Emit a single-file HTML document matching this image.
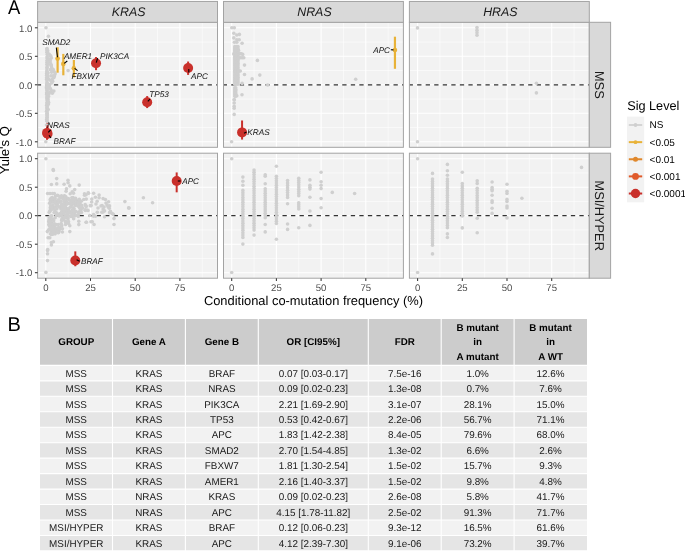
<!DOCTYPE html>
<html><head><meta charset="utf-8"><title>Figure</title>
<style>
html,body{margin:0;padding:0;background:#fff;width:685px;height:551px;overflow:hidden;}
svg{display:block;will-change:transform;}
text{font-family:"Liberation Sans",sans-serif;text-rendering:geometricPrecision;}
</style></head>
<body>
<svg width="685" height="551" viewBox="0 0 685 551">
<rect x="0" y="0" width="685" height="551" fill="#fff"/>
<text transform="translate(7.9,14.3) scale(0.92,1.0)" font-size="20" fill="#000">A</text>
<rect x="37.6" y="22.3" width="179.9" height="125" fill="#F2F2F2"/>
<line x1="37.6" x2="217.5" y1="127.55" y2="127.55" stroke="#fff" stroke-width="0.55"/>
<line x1="37.6" x2="217.5" y1="99.05" y2="99.05" stroke="#fff" stroke-width="0.55"/>
<line x1="37.6" x2="217.5" y1="70.55" y2="70.55" stroke="#fff" stroke-width="0.55"/>
<line x1="37.6" x2="217.5" y1="42.05" y2="42.05" stroke="#fff" stroke-width="0.55"/>
<line x1="68.15" x2="68.15" y1="22.3" y2="147.3" stroke="#fff" stroke-width="0.55"/>
<line x1="112.85" x2="112.85" y1="22.3" y2="147.3" stroke="#fff" stroke-width="0.55"/>
<line x1="157.55" x2="157.55" y1="22.3" y2="147.3" stroke="#fff" stroke-width="0.55"/>
<line x1="202.25" x2="202.25" y1="22.3" y2="147.3" stroke="#fff" stroke-width="0.55"/>
<line x1="37.6" x2="217.5" y1="141.8" y2="141.8" stroke="#fff" stroke-width="1.1"/>
<line x1="37.6" x2="217.5" y1="113.3" y2="113.3" stroke="#fff" stroke-width="1.1"/>
<line x1="37.6" x2="217.5" y1="84.8" y2="84.8" stroke="#fff" stroke-width="1.1"/>
<line x1="37.6" x2="217.5" y1="56.3" y2="56.3" stroke="#fff" stroke-width="1.1"/>
<line x1="37.6" x2="217.5" y1="27.8" y2="27.8" stroke="#fff" stroke-width="1.1"/>
<line x1="45.8" x2="45.8" y1="22.3" y2="147.3" stroke="#fff" stroke-width="1.1"/>
<line x1="90.5" x2="90.5" y1="22.3" y2="147.3" stroke="#fff" stroke-width="1.1"/>
<line x1="135.2" x2="135.2" y1="22.3" y2="147.3" stroke="#fff" stroke-width="1.1"/>
<line x1="179.9" x2="179.9" y1="22.3" y2="147.3" stroke="#fff" stroke-width="1.1"/>
<line x1="37.6" x2="217.5" y1="84.8" y2="84.8" stroke="#333" stroke-width="1.25" stroke-dasharray="4.3 4.24" stroke-dashoffset="0.8"/>
<line x1="47.05" x2="47.05" y1="139.56" y2="120.48" stroke="#C9302B" stroke-width="2"/>
<circle cx="46.98" cy="48.89" r="1.8" fill="#CFCFCF"/>
<circle cx="46.92" cy="48.46" r="1.8" fill="#CFCFCF"/>
<circle cx="46.95" cy="50.43" r="1.8" fill="#CFCFCF"/>
<circle cx="47.7" cy="50.71" r="1.8" fill="#CFCFCF"/>
<circle cx="46.97" cy="52.34" r="1.8" fill="#CFCFCF"/>
<circle cx="47.43" cy="52.27" r="1.8" fill="#CFCFCF"/>
<circle cx="47.13" cy="54.27" r="1.8" fill="#CFCFCF"/>
<circle cx="49.26" cy="54.28" r="1.8" fill="#CFCFCF"/>
<circle cx="47.18" cy="56.45" r="1.8" fill="#CFCFCF"/>
<circle cx="50.68" cy="56.32" r="1.8" fill="#CFCFCF"/>
<circle cx="50.59" cy="55.86" r="1.8" fill="#CFCFCF"/>
<circle cx="46.92" cy="58.09" r="1.8" fill="#CFCFCF"/>
<circle cx="51.33" cy="57.99" r="1.8" fill="#CFCFCF"/>
<circle cx="48.2" cy="58.68" r="1.8" fill="#CFCFCF"/>
<circle cx="47.03" cy="60.28" r="1.8" fill="#CFCFCF"/>
<circle cx="50.33" cy="60.1" r="1.8" fill="#CFCFCF"/>
<circle cx="48.73" cy="59.68" r="1.8" fill="#CFCFCF"/>
<circle cx="46.88" cy="62.21" r="1.8" fill="#CFCFCF"/>
<circle cx="50.11" cy="62.04" r="1.8" fill="#CFCFCF"/>
<circle cx="47.84" cy="62.2" r="1.8" fill="#CFCFCF"/>
<circle cx="46.92" cy="64.18" r="1.8" fill="#CFCFCF"/>
<circle cx="50.82" cy="64.16" r="1.8" fill="#CFCFCF"/>
<circle cx="47.78" cy="64.09" r="1.8" fill="#CFCFCF"/>
<circle cx="47.15" cy="66.04" r="1.8" fill="#CFCFCF"/>
<circle cx="51.26" cy="65.73" r="1.8" fill="#CFCFCF"/>
<circle cx="51.17" cy="65.44" r="1.8" fill="#CFCFCF"/>
<circle cx="47.05" cy="67.59" r="1.8" fill="#CFCFCF"/>
<circle cx="51.65" cy="67.79" r="1.8" fill="#CFCFCF"/>
<circle cx="46.94" cy="68" r="1.8" fill="#CFCFCF"/>
<circle cx="46.85" cy="69.93" r="1.8" fill="#CFCFCF"/>
<circle cx="53.23" cy="69.55" r="1.8" fill="#CFCFCF"/>
<circle cx="51.21" cy="69.81" r="1.8" fill="#CFCFCF"/>
<circle cx="50.45" cy="69.65" r="1.8" fill="#CFCFCF"/>
<circle cx="46.98" cy="71.58" r="1.8" fill="#CFCFCF"/>
<circle cx="54.31" cy="71.73" r="1.8" fill="#CFCFCF"/>
<circle cx="47.07" cy="71.84" r="1.8" fill="#CFCFCF"/>
<circle cx="51.59" cy="72.19" r="1.8" fill="#CFCFCF"/>
<circle cx="46.71" cy="73.43" r="1.8" fill="#CFCFCF"/>
<circle cx="55.15" cy="73.63" r="1.8" fill="#CFCFCF"/>
<circle cx="46.79" cy="73.45" r="1.8" fill="#CFCFCF"/>
<circle cx="48.04" cy="73.04" r="1.8" fill="#CFCFCF"/>
<circle cx="47.1" cy="73.82" r="1.8" fill="#CFCFCF"/>
<circle cx="46.7" cy="75.33" r="1.8" fill="#CFCFCF"/>
<circle cx="54.53" cy="75.7" r="1.8" fill="#CFCFCF"/>
<circle cx="47.24" cy="75.34" r="1.8" fill="#CFCFCF"/>
<circle cx="50.96" cy="75.86" r="1.8" fill="#CFCFCF"/>
<circle cx="53.1" cy="75.84" r="1.8" fill="#CFCFCF"/>
<circle cx="46.77" cy="77.22" r="1.8" fill="#CFCFCF"/>
<circle cx="53.92" cy="77.61" r="1.8" fill="#CFCFCF"/>
<circle cx="53.61" cy="76.88" r="1.8" fill="#CFCFCF"/>
<circle cx="47.89" cy="76.98" r="1.8" fill="#CFCFCF"/>
<circle cx="46.79" cy="79.25" r="1.8" fill="#CFCFCF"/>
<circle cx="52.32" cy="79.01" r="1.8" fill="#CFCFCF"/>
<circle cx="46.62" cy="79.1" r="1.8" fill="#CFCFCF"/>
<circle cx="48.71" cy="79.28" r="1.8" fill="#CFCFCF"/>
<circle cx="46.88" cy="81.11" r="1.8" fill="#CFCFCF"/>
<circle cx="52.67" cy="81.19" r="1.8" fill="#CFCFCF"/>
<circle cx="50.7" cy="80.56" r="1.8" fill="#CFCFCF"/>
<circle cx="52.06" cy="81.44" r="1.8" fill="#CFCFCF"/>
<circle cx="46.92" cy="82.94" r="1.8" fill="#CFCFCF"/>
<circle cx="51.74" cy="82.92" r="1.8" fill="#CFCFCF"/>
<circle cx="47.13" cy="83.16" r="1.8" fill="#CFCFCF"/>
<circle cx="46.63" cy="84.73" r="1.8" fill="#CFCFCF"/>
<circle cx="49.65" cy="84.63" r="1.8" fill="#CFCFCF"/>
<circle cx="47.64" cy="84.36" r="1.8" fill="#CFCFCF"/>
<circle cx="46.66" cy="86.56" r="1.8" fill="#CFCFCF"/>
<circle cx="49.2" cy="86.69" r="1.8" fill="#CFCFCF"/>
<circle cx="46.67" cy="87.25" r="1.8" fill="#CFCFCF"/>
<circle cx="46.66" cy="88.55" r="1.8" fill="#CFCFCF"/>
<circle cx="50.34" cy="88.58" r="1.8" fill="#CFCFCF"/>
<circle cx="47.96" cy="88.25" r="1.8" fill="#CFCFCF"/>
<circle cx="47" cy="90.58" r="1.8" fill="#CFCFCF"/>
<circle cx="51.39" cy="90.59" r="1.8" fill="#CFCFCF"/>
<circle cx="47.01" cy="90.12" r="1.8" fill="#CFCFCF"/>
<circle cx="46.71" cy="92.7" r="1.8" fill="#CFCFCF"/>
<circle cx="49.62" cy="92.23" r="1.8" fill="#CFCFCF"/>
<circle cx="46.67" cy="93.04" r="1.8" fill="#CFCFCF"/>
<circle cx="46.66" cy="94.43" r="1.8" fill="#CFCFCF"/>
<circle cx="48.88" cy="94.02" r="1.8" fill="#CFCFCF"/>
<circle cx="46.99" cy="96.52" r="1.8" fill="#CFCFCF"/>
<circle cx="48.55" cy="96.46" r="1.8" fill="#CFCFCF"/>
<circle cx="46.75" cy="98" r="1.8" fill="#CFCFCF"/>
<circle cx="47.76" cy="98.42" r="1.8" fill="#CFCFCF"/>
<circle cx="46.91" cy="100" r="1.8" fill="#CFCFCF"/>
<circle cx="48.15" cy="99.88" r="1.8" fill="#CFCFCF"/>
<circle cx="46.99" cy="102.21" r="1.8" fill="#CFCFCF"/>
<circle cx="48.56" cy="102.24" r="1.8" fill="#CFCFCF"/>
<circle cx="46.9" cy="103.74" r="1.8" fill="#CFCFCF"/>
<circle cx="48.48" cy="103.91" r="1.8" fill="#CFCFCF"/>
<circle cx="46.61" cy="105.52" r="1.8" fill="#CFCFCF"/>
<circle cx="47.49" cy="105.62" r="1.8" fill="#CFCFCF"/>
<circle cx="46.88" cy="107.97" r="1.8" fill="#CFCFCF"/>
<circle cx="47.16" cy="107.66" r="1.8" fill="#CFCFCF"/>
<circle cx="47" cy="109.87" r="1.8" fill="#CFCFCF"/>
<circle cx="48.22" cy="109.49" r="1.8" fill="#CFCFCF"/>
<circle cx="46.69" cy="111.32" r="1.8" fill="#CFCFCF"/>
<circle cx="46.75" cy="111.26" r="1.8" fill="#CFCFCF"/>
<circle cx="46.96" cy="113.6" r="1.8" fill="#CFCFCF"/>
<circle cx="47.28" cy="113.38" r="1.8" fill="#CFCFCF"/>
<circle cx="46.93" cy="115.05" r="1.8" fill="#CFCFCF"/>
<circle cx="47.12" cy="115.43" r="1.8" fill="#CFCFCF"/>
<circle cx="47" cy="117.35" r="1.8" fill="#CFCFCF"/>
<circle cx="47.2" cy="117.18" r="1.8" fill="#CFCFCF"/>
<circle cx="47.08" cy="119" r="1.8" fill="#CFCFCF"/>
<circle cx="46.76" cy="119.34" r="1.8" fill="#CFCFCF"/>
<circle cx="47.13" cy="120.94" r="1.8" fill="#CFCFCF"/>
<circle cx="46.97" cy="121.36" r="1.8" fill="#CFCFCF"/>
<circle cx="46" cy="27.8" r="1.8" fill="#CFCFCF"/>
<circle cx="48.4" cy="36.2" r="1.8" fill="#CFCFCF"/>
<circle cx="68.1" cy="70.6" r="1.8" fill="#CFCFCF"/>
<circle cx="45.8" cy="141.7" r="1.8" fill="#CFCFCF"/>
<circle cx="53.9" cy="91.1" r="1.8" fill="#CFCFCF"/>
<circle cx="52.3" cy="93.2" r="1.8" fill="#CFCFCF"/>
<circle cx="46.5" cy="125" r="1.8" fill="#CFCFCF"/>
<rect x="223.5" y="22.3" width="179.9" height="125" fill="#F2F2F2"/>
<line x1="223.5" x2="403.4" y1="127.55" y2="127.55" stroke="#fff" stroke-width="0.55"/>
<line x1="223.5" x2="403.4" y1="99.05" y2="99.05" stroke="#fff" stroke-width="0.55"/>
<line x1="223.5" x2="403.4" y1="70.55" y2="70.55" stroke="#fff" stroke-width="0.55"/>
<line x1="223.5" x2="403.4" y1="42.05" y2="42.05" stroke="#fff" stroke-width="0.55"/>
<line x1="254.05" x2="254.05" y1="22.3" y2="147.3" stroke="#fff" stroke-width="0.55"/>
<line x1="298.75" x2="298.75" y1="22.3" y2="147.3" stroke="#fff" stroke-width="0.55"/>
<line x1="343.45" x2="343.45" y1="22.3" y2="147.3" stroke="#fff" stroke-width="0.55"/>
<line x1="388.15" x2="388.15" y1="22.3" y2="147.3" stroke="#fff" stroke-width="0.55"/>
<line x1="223.5" x2="403.4" y1="141.8" y2="141.8" stroke="#fff" stroke-width="1.1"/>
<line x1="223.5" x2="403.4" y1="113.3" y2="113.3" stroke="#fff" stroke-width="1.1"/>
<line x1="223.5" x2="403.4" y1="84.8" y2="84.8" stroke="#fff" stroke-width="1.1"/>
<line x1="223.5" x2="403.4" y1="56.3" y2="56.3" stroke="#fff" stroke-width="1.1"/>
<line x1="223.5" x2="403.4" y1="27.8" y2="27.8" stroke="#fff" stroke-width="1.1"/>
<line x1="231.7" x2="231.7" y1="22.3" y2="147.3" stroke="#fff" stroke-width="1.1"/>
<line x1="276.4" x2="276.4" y1="22.3" y2="147.3" stroke="#fff" stroke-width="1.1"/>
<line x1="321.1" x2="321.1" y1="22.3" y2="147.3" stroke="#fff" stroke-width="1.1"/>
<line x1="365.8" x2="365.8" y1="22.3" y2="147.3" stroke="#fff" stroke-width="1.1"/>
<line x1="223.5" x2="403.4" y1="84.8" y2="84.8" stroke="#333" stroke-width="1.25" stroke-dasharray="4.3 4.24" stroke-dashoffset="0.8"/>
<circle cx="231.8" cy="27.7" r="1.8" fill="#CFCFCF"/>
<circle cx="234.3" cy="27.7" r="1.8" fill="#CFCFCF"/>
<circle cx="233.8" cy="33.2" r="1.8" fill="#CFCFCF"/>
<circle cx="236.8" cy="35" r="1.8" fill="#CFCFCF"/>
<circle cx="239.4" cy="34.4" r="1.8" fill="#CFCFCF"/>
<circle cx="233.8" cy="37.9" r="1.8" fill="#CFCFCF"/>
<circle cx="236.8" cy="39.7" r="1.8" fill="#CFCFCF"/>
<circle cx="239.2" cy="39.7" r="1.8" fill="#CFCFCF"/>
<circle cx="234.4" cy="42.3" r="1.8" fill="#CFCFCF"/>
<circle cx="236.8" cy="42.3" r="1.8" fill="#CFCFCF"/>
<circle cx="242.1" cy="43.2" r="1.8" fill="#CFCFCF"/>
<circle cx="257.4" cy="60.4" r="1.8" fill="#CFCFCF"/>
<circle cx="244.5" cy="65.1" r="1.8" fill="#CFCFCF"/>
<circle cx="244.5" cy="74.5" r="1.8" fill="#CFCFCF"/>
<circle cx="259.8" cy="75.1" r="1.8" fill="#CFCFCF"/>
<circle cx="252.1" cy="78.9" r="1.8" fill="#CFCFCF"/>
<circle cx="242.1" cy="83.4" r="1.8" fill="#CFCFCF"/>
<circle cx="242" cy="94.7" r="1.8" fill="#CFCFCF"/>
<circle cx="236.8" cy="95.8" r="1.8" fill="#CFCFCF"/>
<circle cx="234.2" cy="103" r="1.8" fill="#CFCFCF"/>
<circle cx="234.2" cy="106.3" r="1.8" fill="#CFCFCF"/>
<circle cx="234.2" cy="108.3" r="1.8" fill="#CFCFCF"/>
<circle cx="234.2" cy="114.4" r="1.8" fill="#CFCFCF"/>
<circle cx="267.7" cy="85" r="1.8" fill="#CFCFCF"/>
<circle cx="231.6" cy="141.7" r="1.8" fill="#CFCFCF"/>
<circle cx="240.3" cy="53.5" r="1.8" fill="#CFCFCF"/>
<circle cx="242.7" cy="54.4" r="1.8" fill="#CFCFCF"/>
<circle cx="233.8" cy="53.9" r="1.8" fill="#CFCFCF"/>
<circle cx="355.7" cy="79.2" r="1.8" fill="#CFCFCF"/>
<circle cx="234.8" cy="46.6" r="1.8" fill="#CFCFCF"/>
<circle cx="236.35" cy="46.6" r="1.8" fill="#CFCFCF"/>
<circle cx="237.9" cy="46.6" r="1.8" fill="#CFCFCF"/>
<circle cx="234.8" cy="47.99" r="1.8" fill="#CFCFCF"/>
<circle cx="236.35" cy="47.99" r="1.8" fill="#CFCFCF"/>
<circle cx="237.9" cy="47.99" r="1.8" fill="#CFCFCF"/>
<circle cx="234.8" cy="49.39" r="1.8" fill="#CFCFCF"/>
<circle cx="236.35" cy="49.39" r="1.8" fill="#CFCFCF"/>
<circle cx="237.9" cy="49.39" r="1.8" fill="#CFCFCF"/>
<circle cx="234.8" cy="50.78" r="1.8" fill="#CFCFCF"/>
<circle cx="236.35" cy="50.78" r="1.8" fill="#CFCFCF"/>
<circle cx="237.9" cy="50.78" r="1.8" fill="#CFCFCF"/>
<circle cx="234.8" cy="52.17" r="1.8" fill="#CFCFCF"/>
<circle cx="236.35" cy="52.17" r="1.8" fill="#CFCFCF"/>
<circle cx="237.9" cy="52.17" r="1.8" fill="#CFCFCF"/>
<circle cx="234.8" cy="53.56" r="1.8" fill="#CFCFCF"/>
<circle cx="236.35" cy="53.56" r="1.8" fill="#CFCFCF"/>
<circle cx="237.9" cy="53.56" r="1.8" fill="#CFCFCF"/>
<circle cx="234.8" cy="54.96" r="1.8" fill="#CFCFCF"/>
<circle cx="236.35" cy="54.96" r="1.8" fill="#CFCFCF"/>
<circle cx="237.9" cy="54.96" r="1.8" fill="#CFCFCF"/>
<circle cx="234.8" cy="56.35" r="1.8" fill="#CFCFCF"/>
<circle cx="236.35" cy="56.35" r="1.8" fill="#CFCFCF"/>
<circle cx="237.9" cy="56.35" r="1.8" fill="#CFCFCF"/>
<circle cx="234.8" cy="57.74" r="1.8" fill="#CFCFCF"/>
<circle cx="236.35" cy="57.74" r="1.8" fill="#CFCFCF"/>
<circle cx="237.9" cy="57.74" r="1.8" fill="#CFCFCF"/>
<circle cx="234.8" cy="59.13" r="1.8" fill="#CFCFCF"/>
<circle cx="236.35" cy="59.13" r="1.8" fill="#CFCFCF"/>
<circle cx="237.9" cy="59.13" r="1.8" fill="#CFCFCF"/>
<circle cx="234.8" cy="60.53" r="1.8" fill="#CFCFCF"/>
<circle cx="236.35" cy="60.53" r="1.8" fill="#CFCFCF"/>
<circle cx="237.9" cy="60.53" r="1.8" fill="#CFCFCF"/>
<circle cx="234.8" cy="61.92" r="1.8" fill="#CFCFCF"/>
<circle cx="236.35" cy="61.92" r="1.8" fill="#CFCFCF"/>
<circle cx="237.9" cy="61.92" r="1.8" fill="#CFCFCF"/>
<circle cx="234.8" cy="63.31" r="1.8" fill="#CFCFCF"/>
<circle cx="236.35" cy="63.31" r="1.8" fill="#CFCFCF"/>
<circle cx="237.9" cy="63.31" r="1.8" fill="#CFCFCF"/>
<circle cx="234.8" cy="64.7" r="1.8" fill="#CFCFCF"/>
<circle cx="236.35" cy="64.7" r="1.8" fill="#CFCFCF"/>
<circle cx="237.9" cy="64.7" r="1.8" fill="#CFCFCF"/>
<circle cx="234.8" cy="66.1" r="1.8" fill="#CFCFCF"/>
<circle cx="236.35" cy="66.1" r="1.8" fill="#CFCFCF"/>
<circle cx="237.9" cy="66.1" r="1.8" fill="#CFCFCF"/>
<circle cx="234.8" cy="67.49" r="1.8" fill="#CFCFCF"/>
<circle cx="236.35" cy="67.49" r="1.8" fill="#CFCFCF"/>
<circle cx="237.9" cy="67.49" r="1.8" fill="#CFCFCF"/>
<circle cx="234.8" cy="68.88" r="1.8" fill="#CFCFCF"/>
<circle cx="236.35" cy="68.88" r="1.8" fill="#CFCFCF"/>
<circle cx="237.9" cy="68.88" r="1.8" fill="#CFCFCF"/>
<circle cx="234.8" cy="70.27" r="1.8" fill="#CFCFCF"/>
<circle cx="236.35" cy="70.27" r="1.8" fill="#CFCFCF"/>
<circle cx="237.9" cy="70.27" r="1.8" fill="#CFCFCF"/>
<circle cx="234.8" cy="71.67" r="1.8" fill="#CFCFCF"/>
<circle cx="236.35" cy="71.67" r="1.8" fill="#CFCFCF"/>
<circle cx="237.9" cy="71.67" r="1.8" fill="#CFCFCF"/>
<circle cx="234.8" cy="73.06" r="1.8" fill="#CFCFCF"/>
<circle cx="236.35" cy="73.06" r="1.8" fill="#CFCFCF"/>
<circle cx="237.9" cy="73.06" r="1.8" fill="#CFCFCF"/>
<circle cx="234.8" cy="74.45" r="1.8" fill="#CFCFCF"/>
<circle cx="236.35" cy="74.45" r="1.8" fill="#CFCFCF"/>
<circle cx="237.9" cy="74.45" r="1.8" fill="#CFCFCF"/>
<circle cx="234.8" cy="75.84" r="1.8" fill="#CFCFCF"/>
<circle cx="236.35" cy="75.84" r="1.8" fill="#CFCFCF"/>
<circle cx="237.9" cy="75.84" r="1.8" fill="#CFCFCF"/>
<circle cx="234.8" cy="77.24" r="1.8" fill="#CFCFCF"/>
<circle cx="236.35" cy="77.24" r="1.8" fill="#CFCFCF"/>
<circle cx="237.9" cy="77.24" r="1.8" fill="#CFCFCF"/>
<circle cx="234.8" cy="78.63" r="1.8" fill="#CFCFCF"/>
<circle cx="236.35" cy="78.63" r="1.8" fill="#CFCFCF"/>
<circle cx="237.9" cy="78.63" r="1.8" fill="#CFCFCF"/>
<circle cx="234.8" cy="80.02" r="1.8" fill="#CFCFCF"/>
<circle cx="236.35" cy="80.02" r="1.8" fill="#CFCFCF"/>
<circle cx="237.9" cy="80.02" r="1.8" fill="#CFCFCF"/>
<circle cx="234.8" cy="81.41" r="1.8" fill="#CFCFCF"/>
<circle cx="236.35" cy="81.41" r="1.8" fill="#CFCFCF"/>
<circle cx="237.9" cy="81.41" r="1.8" fill="#CFCFCF"/>
<circle cx="234.8" cy="82.81" r="1.8" fill="#CFCFCF"/>
<circle cx="236.35" cy="82.81" r="1.8" fill="#CFCFCF"/>
<circle cx="237.9" cy="82.81" r="1.8" fill="#CFCFCF"/>
<circle cx="234.8" cy="84.2" r="1.8" fill="#CFCFCF"/>
<circle cx="236.35" cy="84.2" r="1.8" fill="#CFCFCF"/>
<circle cx="237.9" cy="84.2" r="1.8" fill="#CFCFCF"/>
<circle cx="234.8" cy="50.3" r="1.8" fill="#CFCFCF"/>
<circle cx="236.03" cy="50.3" r="1.8" fill="#CFCFCF"/>
<circle cx="237.27" cy="50.3" r="1.8" fill="#CFCFCF"/>
<circle cx="238.5" cy="50.3" r="1.8" fill="#CFCFCF"/>
<circle cx="234.8" cy="53.75" r="1.8" fill="#CFCFCF"/>
<circle cx="236.08" cy="53.75" r="1.8" fill="#CFCFCF"/>
<circle cx="237.36" cy="53.75" r="1.8" fill="#CFCFCF"/>
<circle cx="238.64" cy="53.75" r="1.8" fill="#CFCFCF"/>
<circle cx="239.92" cy="53.75" r="1.8" fill="#CFCFCF"/>
<circle cx="241.2" cy="53.75" r="1.8" fill="#CFCFCF"/>
<circle cx="234.8" cy="57.8" r="1.8" fill="#CFCFCF"/>
<circle cx="236.3" cy="57.8" r="1.8" fill="#CFCFCF"/>
<circle cx="237.8" cy="57.8" r="1.8" fill="#CFCFCF"/>
<circle cx="239.3" cy="57.8" r="1.8" fill="#CFCFCF"/>
<circle cx="240.8" cy="57.8" r="1.8" fill="#CFCFCF"/>
<circle cx="242.3" cy="57.8" r="1.8" fill="#CFCFCF"/>
<circle cx="243.8" cy="57.8" r="1.8" fill="#CFCFCF"/>
<circle cx="234.8" cy="71" r="1.8" fill="#CFCFCF"/>
<circle cx="236.18" cy="71" r="1.8" fill="#CFCFCF"/>
<circle cx="237.55" cy="71" r="1.8" fill="#CFCFCF"/>
<circle cx="238.92" cy="71" r="1.8" fill="#CFCFCF"/>
<circle cx="240.3" cy="71" r="1.8" fill="#CFCFCF"/>
<circle cx="234.8" cy="87.8" r="1.8" fill="#CFCFCF"/>
<circle cx="235.7" cy="87.8" r="1.8" fill="#CFCFCF"/>
<circle cx="234.8" cy="89.2" r="1.8" fill="#CFCFCF"/>
<circle cx="235.7" cy="89.2" r="1.8" fill="#CFCFCF"/>
<circle cx="234.8" cy="90.6" r="1.8" fill="#CFCFCF"/>
<circle cx="235.7" cy="90.6" r="1.8" fill="#CFCFCF"/>
<circle cx="234.8" cy="92" r="1.8" fill="#CFCFCF"/>
<circle cx="235.7" cy="92" r="1.8" fill="#CFCFCF"/>
<circle cx="234.8" cy="93.4" r="1.8" fill="#CFCFCF"/>
<circle cx="235.7" cy="93.4" r="1.8" fill="#CFCFCF"/>
<circle cx="234.8" cy="94.8" r="1.8" fill="#CFCFCF"/>
<circle cx="235.7" cy="94.8" r="1.8" fill="#CFCFCF"/>
<circle cx="234.8" cy="96.2" r="1.8" fill="#CFCFCF"/>
<circle cx="235.7" cy="96.2" r="1.8" fill="#CFCFCF"/>
<circle cx="234.25" cy="99.75" r="1.8" fill="#CFCFCF"/>
<circle cx="234.25" cy="99.75" r="1.8" fill="#CFCFCF"/>
<rect x="409.4" y="22.3" width="179.9" height="125" fill="#F2F2F2"/>
<line x1="409.4" x2="589.3" y1="127.55" y2="127.55" stroke="#fff" stroke-width="0.55"/>
<line x1="409.4" x2="589.3" y1="99.05" y2="99.05" stroke="#fff" stroke-width="0.55"/>
<line x1="409.4" x2="589.3" y1="70.55" y2="70.55" stroke="#fff" stroke-width="0.55"/>
<line x1="409.4" x2="589.3" y1="42.05" y2="42.05" stroke="#fff" stroke-width="0.55"/>
<line x1="439.95" x2="439.95" y1="22.3" y2="147.3" stroke="#fff" stroke-width="0.55"/>
<line x1="484.65" x2="484.65" y1="22.3" y2="147.3" stroke="#fff" stroke-width="0.55"/>
<line x1="529.35" x2="529.35" y1="22.3" y2="147.3" stroke="#fff" stroke-width="0.55"/>
<line x1="574.05" x2="574.05" y1="22.3" y2="147.3" stroke="#fff" stroke-width="0.55"/>
<line x1="409.4" x2="589.3" y1="141.8" y2="141.8" stroke="#fff" stroke-width="1.1"/>
<line x1="409.4" x2="589.3" y1="113.3" y2="113.3" stroke="#fff" stroke-width="1.1"/>
<line x1="409.4" x2="589.3" y1="84.8" y2="84.8" stroke="#fff" stroke-width="1.1"/>
<line x1="409.4" x2="589.3" y1="56.3" y2="56.3" stroke="#fff" stroke-width="1.1"/>
<line x1="409.4" x2="589.3" y1="27.8" y2="27.8" stroke="#fff" stroke-width="1.1"/>
<line x1="417.6" x2="417.6" y1="22.3" y2="147.3" stroke="#fff" stroke-width="1.1"/>
<line x1="462.3" x2="462.3" y1="22.3" y2="147.3" stroke="#fff" stroke-width="1.1"/>
<line x1="507" x2="507" y1="22.3" y2="147.3" stroke="#fff" stroke-width="1.1"/>
<line x1="551.7" x2="551.7" y1="22.3" y2="147.3" stroke="#fff" stroke-width="1.1"/>
<line x1="409.4" x2="589.3" y1="84.8" y2="84.8" stroke="#333" stroke-width="1.25" stroke-dasharray="4.3 4.24" stroke-dashoffset="0.8"/>
<circle cx="417.5" cy="27.9" r="1.8" fill="#CFCFCF"/>
<circle cx="536.4" cy="83.3" r="1.8" fill="#CFCFCF"/>
<circle cx="536.4" cy="92.9" r="1.8" fill="#CFCFCF"/>
<circle cx="417.5" cy="141.7" r="1.8" fill="#CFCFCF"/>
<circle cx="477" cy="27.6" r="1.8" fill="#CFCFCF"/>
<circle cx="477" cy="30.13" r="1.8" fill="#CFCFCF"/>
<circle cx="477" cy="32.67" r="1.8" fill="#CFCFCF"/>
<circle cx="477" cy="35.2" r="1.8" fill="#CFCFCF"/>
<rect x="37.6" y="153.2" width="179.9" height="125" fill="#F2F2F2"/>
<line x1="37.6" x2="217.5" y1="258.45" y2="258.45" stroke="#fff" stroke-width="0.55"/>
<line x1="37.6" x2="217.5" y1="229.95" y2="229.95" stroke="#fff" stroke-width="0.55"/>
<line x1="37.6" x2="217.5" y1="201.45" y2="201.45" stroke="#fff" stroke-width="0.55"/>
<line x1="37.6" x2="217.5" y1="172.95" y2="172.95" stroke="#fff" stroke-width="0.55"/>
<line x1="68.15" x2="68.15" y1="153.2" y2="278.2" stroke="#fff" stroke-width="0.55"/>
<line x1="112.85" x2="112.85" y1="153.2" y2="278.2" stroke="#fff" stroke-width="0.55"/>
<line x1="157.55" x2="157.55" y1="153.2" y2="278.2" stroke="#fff" stroke-width="0.55"/>
<line x1="202.25" x2="202.25" y1="153.2" y2="278.2" stroke="#fff" stroke-width="0.55"/>
<line x1="37.6" x2="217.5" y1="272.7" y2="272.7" stroke="#fff" stroke-width="1.1"/>
<line x1="37.6" x2="217.5" y1="244.2" y2="244.2" stroke="#fff" stroke-width="1.1"/>
<line x1="37.6" x2="217.5" y1="215.7" y2="215.7" stroke="#fff" stroke-width="1.1"/>
<line x1="37.6" x2="217.5" y1="187.2" y2="187.2" stroke="#fff" stroke-width="1.1"/>
<line x1="37.6" x2="217.5" y1="158.7" y2="158.7" stroke="#fff" stroke-width="1.1"/>
<line x1="45.8" x2="45.8" y1="153.2" y2="278.2" stroke="#fff" stroke-width="1.1"/>
<line x1="90.5" x2="90.5" y1="153.2" y2="278.2" stroke="#fff" stroke-width="1.1"/>
<line x1="135.2" x2="135.2" y1="153.2" y2="278.2" stroke="#fff" stroke-width="1.1"/>
<line x1="179.9" x2="179.9" y1="153.2" y2="278.2" stroke="#fff" stroke-width="1.1"/>
<line x1="37.6" x2="217.5" y1="215.7" y2="215.7" stroke="#333" stroke-width="1.25" stroke-dasharray="4.3 4.24" stroke-dashoffset="0.8"/>
<circle cx="58.13" cy="232.81" r="1.8" fill="#CFCFCF"/>
<circle cx="57.79" cy="229.37" r="1.8" fill="#CFCFCF"/>
<circle cx="67.63" cy="203.58" r="1.8" fill="#CFCFCF"/>
<circle cx="65.38" cy="211.44" r="1.8" fill="#CFCFCF"/>
<circle cx="49.25" cy="212.37" r="1.8" fill="#CFCFCF"/>
<circle cx="59.55" cy="213.83" r="1.8" fill="#CFCFCF"/>
<circle cx="55.11" cy="217.65" r="1.8" fill="#CFCFCF"/>
<circle cx="78.31" cy="216.46" r="1.8" fill="#CFCFCF"/>
<circle cx="65.39" cy="217.62" r="1.8" fill="#CFCFCF"/>
<circle cx="56.15" cy="212.45" r="1.8" fill="#CFCFCF"/>
<circle cx="64.12" cy="196.22" r="1.8" fill="#CFCFCF"/>
<circle cx="58.35" cy="224.51" r="1.8" fill="#CFCFCF"/>
<circle cx="57.58" cy="231.84" r="1.8" fill="#CFCFCF"/>
<circle cx="82.55" cy="207.92" r="1.8" fill="#CFCFCF"/>
<circle cx="49.31" cy="217.38" r="1.8" fill="#CFCFCF"/>
<circle cx="89.8" cy="215.54" r="1.8" fill="#CFCFCF"/>
<circle cx="51.85" cy="223.28" r="1.8" fill="#CFCFCF"/>
<circle cx="52.85" cy="234.29" r="1.8" fill="#CFCFCF"/>
<circle cx="65.95" cy="198.69" r="1.8" fill="#CFCFCF"/>
<circle cx="63.98" cy="197.82" r="1.8" fill="#CFCFCF"/>
<circle cx="51.38" cy="201.88" r="1.8" fill="#CFCFCF"/>
<circle cx="67.43" cy="215" r="1.8" fill="#CFCFCF"/>
<circle cx="60.69" cy="213.89" r="1.8" fill="#CFCFCF"/>
<circle cx="55.12" cy="229.03" r="1.8" fill="#CFCFCF"/>
<circle cx="74.34" cy="215.29" r="1.8" fill="#CFCFCF"/>
<circle cx="51.64" cy="198.71" r="1.8" fill="#CFCFCF"/>
<circle cx="53.66" cy="230.02" r="1.8" fill="#CFCFCF"/>
<circle cx="67.63" cy="213.22" r="1.8" fill="#CFCFCF"/>
<circle cx="68.74" cy="208.69" r="1.8" fill="#CFCFCF"/>
<circle cx="73.57" cy="213.88" r="1.8" fill="#CFCFCF"/>
<circle cx="61.47" cy="215.21" r="1.8" fill="#CFCFCF"/>
<circle cx="65.7" cy="196.95" r="1.8" fill="#CFCFCF"/>
<circle cx="68.38" cy="203.24" r="1.8" fill="#CFCFCF"/>
<circle cx="50.93" cy="229.75" r="1.8" fill="#CFCFCF"/>
<circle cx="56.92" cy="208.87" r="1.8" fill="#CFCFCF"/>
<circle cx="93.6" cy="214.53" r="1.8" fill="#CFCFCF"/>
<circle cx="52.43" cy="225.42" r="1.8" fill="#CFCFCF"/>
<circle cx="52.99" cy="204.68" r="1.8" fill="#CFCFCF"/>
<circle cx="61.75" cy="225.55" r="1.8" fill="#CFCFCF"/>
<circle cx="81.09" cy="209.83" r="1.8" fill="#CFCFCF"/>
<circle cx="53.19" cy="199.49" r="1.8" fill="#CFCFCF"/>
<circle cx="66.01" cy="222.57" r="1.8" fill="#CFCFCF"/>
<circle cx="79.13" cy="213.52" r="1.8" fill="#CFCFCF"/>
<circle cx="62.12" cy="218.58" r="1.8" fill="#CFCFCF"/>
<circle cx="56.88" cy="229.09" r="1.8" fill="#CFCFCF"/>
<circle cx="78.2" cy="206.29" r="1.8" fill="#CFCFCF"/>
<circle cx="71.05" cy="206.91" r="1.8" fill="#CFCFCF"/>
<circle cx="54.81" cy="229.73" r="1.8" fill="#CFCFCF"/>
<circle cx="65.8" cy="215.48" r="1.8" fill="#CFCFCF"/>
<circle cx="91.18" cy="205.59" r="1.8" fill="#CFCFCF"/>
<circle cx="79.64" cy="208.12" r="1.8" fill="#CFCFCF"/>
<circle cx="65.43" cy="221.86" r="1.8" fill="#CFCFCF"/>
<circle cx="85.34" cy="210.35" r="1.8" fill="#CFCFCF"/>
<circle cx="58.83" cy="202.15" r="1.8" fill="#CFCFCF"/>
<circle cx="57.35" cy="201.47" r="1.8" fill="#CFCFCF"/>
<circle cx="64.02" cy="204.37" r="1.8" fill="#CFCFCF"/>
<circle cx="75.66" cy="211.21" r="1.8" fill="#CFCFCF"/>
<circle cx="73.25" cy="207.88" r="1.8" fill="#CFCFCF"/>
<circle cx="56.43" cy="215.15" r="1.8" fill="#CFCFCF"/>
<circle cx="64.65" cy="210.59" r="1.8" fill="#CFCFCF"/>
<circle cx="50.16" cy="224.22" r="1.8" fill="#CFCFCF"/>
<circle cx="64.65" cy="197.8" r="1.8" fill="#CFCFCF"/>
<circle cx="50.65" cy="227.42" r="1.8" fill="#CFCFCF"/>
<circle cx="68.35" cy="198.63" r="1.8" fill="#CFCFCF"/>
<circle cx="55.51" cy="196.1" r="1.8" fill="#CFCFCF"/>
<circle cx="87.05" cy="210.08" r="1.8" fill="#CFCFCF"/>
<circle cx="68.2" cy="213.27" r="1.8" fill="#CFCFCF"/>
<circle cx="79.85" cy="203.33" r="1.8" fill="#CFCFCF"/>
<circle cx="76.14" cy="204.32" r="1.8" fill="#CFCFCF"/>
<circle cx="50.28" cy="207.87" r="1.8" fill="#CFCFCF"/>
<circle cx="81.22" cy="201.24" r="1.8" fill="#CFCFCF"/>
<circle cx="57.51" cy="195.28" r="1.8" fill="#CFCFCF"/>
<circle cx="70.22" cy="200.45" r="1.8" fill="#CFCFCF"/>
<circle cx="66.75" cy="208.46" r="1.8" fill="#CFCFCF"/>
<circle cx="61.9" cy="208.69" r="1.8" fill="#CFCFCF"/>
<circle cx="103.07" cy="212.03" r="1.8" fill="#CFCFCF"/>
<circle cx="60.93" cy="209.03" r="1.8" fill="#CFCFCF"/>
<circle cx="50.03" cy="211.08" r="1.8" fill="#CFCFCF"/>
<circle cx="65.57" cy="224.53" r="1.8" fill="#CFCFCF"/>
<circle cx="49.63" cy="203.29" r="1.8" fill="#CFCFCF"/>
<circle cx="73.9" cy="204.05" r="1.8" fill="#CFCFCF"/>
<circle cx="60.26" cy="228.31" r="1.8" fill="#CFCFCF"/>
<circle cx="53.29" cy="201.68" r="1.8" fill="#CFCFCF"/>
<circle cx="64.57" cy="195.85" r="1.8" fill="#CFCFCF"/>
<circle cx="65.75" cy="196.7" r="1.8" fill="#CFCFCF"/>
<circle cx="77.95" cy="203.3" r="1.8" fill="#CFCFCF"/>
<circle cx="67.68" cy="217.94" r="1.8" fill="#CFCFCF"/>
<circle cx="64.44" cy="199.75" r="1.8" fill="#CFCFCF"/>
<circle cx="50.7" cy="205.92" r="1.8" fill="#CFCFCF"/>
<circle cx="62.58" cy="209.22" r="1.8" fill="#CFCFCF"/>
<circle cx="61.67" cy="204.22" r="1.8" fill="#CFCFCF"/>
<circle cx="91.66" cy="201.95" r="1.8" fill="#CFCFCF"/>
<circle cx="60.4" cy="206.74" r="1.8" fill="#CFCFCF"/>
<circle cx="52.24" cy="197.46" r="1.8" fill="#CFCFCF"/>
<circle cx="54.11" cy="200.2" r="1.8" fill="#CFCFCF"/>
<circle cx="75.46" cy="205.47" r="1.8" fill="#CFCFCF"/>
<circle cx="72.37" cy="201.68" r="1.8" fill="#CFCFCF"/>
<circle cx="78.88" cy="200.15" r="1.8" fill="#CFCFCF"/>
<circle cx="57.77" cy="205.46" r="1.8" fill="#CFCFCF"/>
<circle cx="113.36" cy="214.24" r="1.8" fill="#CFCFCF"/>
<circle cx="58.74" cy="227.58" r="1.8" fill="#CFCFCF"/>
<circle cx="74.78" cy="215.79" r="1.8" fill="#CFCFCF"/>
<circle cx="56.24" cy="203.87" r="1.8" fill="#CFCFCF"/>
<circle cx="50.55" cy="229.88" r="1.8" fill="#CFCFCF"/>
<circle cx="68.52" cy="211.48" r="1.8" fill="#CFCFCF"/>
<circle cx="77.93" cy="212.29" r="1.8" fill="#CFCFCF"/>
<circle cx="78.71" cy="200.9" r="1.8" fill="#CFCFCF"/>
<circle cx="55.17" cy="198.65" r="1.8" fill="#CFCFCF"/>
<circle cx="54.14" cy="212.45" r="1.8" fill="#CFCFCF"/>
<circle cx="50.73" cy="221" r="1.8" fill="#CFCFCF"/>
<circle cx="57.12" cy="230.71" r="1.8" fill="#CFCFCF"/>
<circle cx="52.39" cy="208.44" r="1.8" fill="#CFCFCF"/>
<circle cx="58.64" cy="232.45" r="1.8" fill="#CFCFCF"/>
<circle cx="65.61" cy="215.26" r="1.8" fill="#CFCFCF"/>
<circle cx="50.47" cy="201.01" r="1.8" fill="#CFCFCF"/>
<circle cx="51.24" cy="229.07" r="1.8" fill="#CFCFCF"/>
<circle cx="50.26" cy="199.57" r="1.8" fill="#CFCFCF"/>
<circle cx="56.85" cy="203" r="1.8" fill="#CFCFCF"/>
<circle cx="71.78" cy="197.68" r="1.8" fill="#CFCFCF"/>
<circle cx="63.03" cy="218.68" r="1.8" fill="#CFCFCF"/>
<circle cx="61.68" cy="220.45" r="1.8" fill="#CFCFCF"/>
<circle cx="64.32" cy="199.57" r="1.8" fill="#CFCFCF"/>
<circle cx="48.77" cy="221.38" r="1.8" fill="#CFCFCF"/>
<circle cx="50.95" cy="216.39" r="1.8" fill="#CFCFCF"/>
<circle cx="57.53" cy="201.78" r="1.8" fill="#CFCFCF"/>
<circle cx="78.32" cy="202.94" r="1.8" fill="#CFCFCF"/>
<circle cx="65.44" cy="203.39" r="1.8" fill="#CFCFCF"/>
<circle cx="70.01" cy="203.52" r="1.8" fill="#CFCFCF"/>
<circle cx="86.21" cy="206.54" r="1.8" fill="#CFCFCF"/>
<circle cx="55.15" cy="233.87" r="1.8" fill="#CFCFCF"/>
<circle cx="50.79" cy="223.48" r="1.8" fill="#CFCFCF"/>
<circle cx="52.41" cy="218.98" r="1.8" fill="#CFCFCF"/>
<circle cx="61.78" cy="197.93" r="1.8" fill="#CFCFCF"/>
<circle cx="90.31" cy="205.64" r="1.8" fill="#CFCFCF"/>
<circle cx="54.56" cy="226.32" r="1.8" fill="#CFCFCF"/>
<circle cx="69.38" cy="211.65" r="1.8" fill="#CFCFCF"/>
<circle cx="65.2" cy="205.43" r="1.8" fill="#CFCFCF"/>
<circle cx="54.09" cy="229.07" r="1.8" fill="#CFCFCF"/>
<circle cx="60.36" cy="214.76" r="1.8" fill="#CFCFCF"/>
<circle cx="67.01" cy="202.45" r="1.8" fill="#CFCFCF"/>
<circle cx="53.42" cy="227.67" r="1.8" fill="#CFCFCF"/>
<circle cx="71.83" cy="210.66" r="1.8" fill="#CFCFCF"/>
<circle cx="61.81" cy="204.58" r="1.8" fill="#CFCFCF"/>
<circle cx="63.65" cy="213.28" r="1.8" fill="#CFCFCF"/>
<circle cx="58.41" cy="230.1" r="1.8" fill="#CFCFCF"/>
<circle cx="56.45" cy="213.33" r="1.8" fill="#CFCFCF"/>
<circle cx="63.94" cy="201.43" r="1.8" fill="#CFCFCF"/>
<circle cx="58.36" cy="199.86" r="1.8" fill="#CFCFCF"/>
<circle cx="69.88" cy="215.98" r="1.8" fill="#CFCFCF"/>
<circle cx="54.81" cy="209.91" r="1.8" fill="#CFCFCF"/>
<circle cx="77.14" cy="201.63" r="1.8" fill="#CFCFCF"/>
<circle cx="55.16" cy="202.08" r="1.8" fill="#CFCFCF"/>
<circle cx="50.27" cy="210.56" r="1.8" fill="#CFCFCF"/>
<circle cx="50.56" cy="216.91" r="1.8" fill="#CFCFCF"/>
<circle cx="66.38" cy="210.59" r="1.8" fill="#CFCFCF"/>
<circle cx="71.59" cy="204.67" r="1.8" fill="#CFCFCF"/>
<circle cx="74.26" cy="202.33" r="1.8" fill="#CFCFCF"/>
<circle cx="79.36" cy="205.95" r="1.8" fill="#CFCFCF"/>
<circle cx="56.39" cy="229.68" r="1.8" fill="#CFCFCF"/>
<circle cx="64.99" cy="211.75" r="1.8" fill="#CFCFCF"/>
<circle cx="66.84" cy="203.78" r="1.8" fill="#CFCFCF"/>
<circle cx="57.56" cy="203.28" r="1.8" fill="#CFCFCF"/>
<circle cx="61.22" cy="223.48" r="1.8" fill="#CFCFCF"/>
<circle cx="85.19" cy="204.64" r="1.8" fill="#CFCFCF"/>
<circle cx="57.34" cy="214.7" r="1.8" fill="#CFCFCF"/>
<circle cx="79.3" cy="199.35" r="1.8" fill="#CFCFCF"/>
<circle cx="48.44" cy="229.99" r="1.8" fill="#CFCFCF"/>
<circle cx="49.91" cy="219.83" r="1.8" fill="#CFCFCF"/>
<circle cx="50.27" cy="224.6" r="1.8" fill="#CFCFCF"/>
<circle cx="72.53" cy="213.88" r="1.8" fill="#CFCFCF"/>
<circle cx="75.05" cy="215.16" r="1.8" fill="#CFCFCF"/>
<circle cx="70.17" cy="206.95" r="1.8" fill="#CFCFCF"/>
<circle cx="84.54" cy="195.19" r="1.8" fill="#CFCFCF"/>
<circle cx="54.79" cy="200.98" r="1.8" fill="#CFCFCF"/>
<circle cx="65.29" cy="206.29" r="1.8" fill="#CFCFCF"/>
<circle cx="69.34" cy="211.95" r="1.8" fill="#CFCFCF"/>
<circle cx="86.02" cy="194.73" r="1.8" fill="#CFCFCF"/>
<circle cx="109.55" cy="212.64" r="1.8" fill="#CFCFCF"/>
<circle cx="79.86" cy="211.15" r="1.8" fill="#CFCFCF"/>
<circle cx="53.91" cy="231.26" r="1.8" fill="#CFCFCF"/>
<circle cx="49.19" cy="224.65" r="1.8" fill="#CFCFCF"/>
<circle cx="97.15" cy="201.25" r="1.8" fill="#CFCFCF"/>
<circle cx="53.65" cy="220.66" r="1.8" fill="#CFCFCF"/>
<circle cx="48.99" cy="221.63" r="1.8" fill="#CFCFCF"/>
<circle cx="53.34" cy="206.69" r="1.8" fill="#CFCFCF"/>
<circle cx="59.12" cy="230.88" r="1.8" fill="#CFCFCF"/>
<circle cx="52.01" cy="209.17" r="1.8" fill="#CFCFCF"/>
<circle cx="57.71" cy="228.08" r="1.8" fill="#CFCFCF"/>
<circle cx="85.98" cy="205.87" r="1.8" fill="#CFCFCF"/>
<circle cx="102.1" cy="205.47" r="1.8" fill="#CFCFCF"/>
<circle cx="65.62" cy="211.59" r="1.8" fill="#CFCFCF"/>
<circle cx="50.83" cy="229.66" r="1.8" fill="#CFCFCF"/>
<circle cx="109.22" cy="208.26" r="1.8" fill="#CFCFCF"/>
<circle cx="61.43" cy="226.01" r="1.8" fill="#CFCFCF"/>
<circle cx="63.68" cy="219.7" r="1.8" fill="#CFCFCF"/>
<circle cx="79.18" cy="202.09" r="1.8" fill="#CFCFCF"/>
<circle cx="60.67" cy="201.46" r="1.8" fill="#CFCFCF"/>
<circle cx="74.97" cy="215.76" r="1.8" fill="#CFCFCF"/>
<circle cx="73.06" cy="197.67" r="1.8" fill="#CFCFCF"/>
<circle cx="71.11" cy="215.86" r="1.8" fill="#CFCFCF"/>
<circle cx="50.54" cy="201.84" r="1.8" fill="#CFCFCF"/>
<circle cx="88.07" cy="210.49" r="1.8" fill="#CFCFCF"/>
<circle cx="74.34" cy="212.73" r="1.8" fill="#CFCFCF"/>
<circle cx="65.14" cy="208.49" r="1.8" fill="#CFCFCF"/>
<circle cx="51.15" cy="227.6" r="1.8" fill="#CFCFCF"/>
<circle cx="51.74" cy="199.37" r="1.8" fill="#CFCFCF"/>
<circle cx="68.02" cy="219.02" r="1.8" fill="#CFCFCF"/>
<circle cx="55.06" cy="207.25" r="1.8" fill="#CFCFCF"/>
<circle cx="56.32" cy="214.18" r="1.8" fill="#CFCFCF"/>
<circle cx="63.98" cy="199.3" r="1.8" fill="#CFCFCF"/>
<circle cx="48.85" cy="224.56" r="1.8" fill="#CFCFCF"/>
<circle cx="50.41" cy="233.82" r="1.8" fill="#CFCFCF"/>
<circle cx="57.57" cy="202.75" r="1.8" fill="#CFCFCF"/>
<circle cx="57.7" cy="231.31" r="1.8" fill="#CFCFCF"/>
<circle cx="75.59" cy="199.85" r="1.8" fill="#CFCFCF"/>
<circle cx="51.81" cy="232.38" r="1.8" fill="#CFCFCF"/>
<circle cx="62.15" cy="214.01" r="1.8" fill="#CFCFCF"/>
<circle cx="65.27" cy="201.87" r="1.8" fill="#CFCFCF"/>
<circle cx="51.85" cy="224.96" r="1.8" fill="#CFCFCF"/>
<circle cx="86.28" cy="199.08" r="1.8" fill="#CFCFCF"/>
<circle cx="61.18" cy="196.49" r="1.8" fill="#CFCFCF"/>
<circle cx="61.8" cy="219.95" r="1.8" fill="#CFCFCF"/>
<circle cx="61.55" cy="195.89" r="1.8" fill="#CFCFCF"/>
<circle cx="51.71" cy="228.67" r="1.8" fill="#CFCFCF"/>
<circle cx="65.84" cy="201.19" r="1.8" fill="#CFCFCF"/>
<circle cx="72.6" cy="200.19" r="1.8" fill="#CFCFCF"/>
<circle cx="56.09" cy="224.44" r="1.8" fill="#CFCFCF"/>
<circle cx="52.1" cy="231.4" r="1.8" fill="#CFCFCF"/>
<circle cx="60.22" cy="197.52" r="1.8" fill="#CFCFCF"/>
<circle cx="54.46" cy="223.75" r="1.8" fill="#CFCFCF"/>
<circle cx="49.19" cy="219.37" r="1.8" fill="#CFCFCF"/>
<circle cx="54.89" cy="231.26" r="1.8" fill="#CFCFCF"/>
<circle cx="51.03" cy="198.41" r="1.8" fill="#CFCFCF"/>
<circle cx="81.55" cy="205.3" r="1.8" fill="#CFCFCF"/>
<circle cx="75.18" cy="199.03" r="1.8" fill="#CFCFCF"/>
<circle cx="59.01" cy="229.34" r="1.8" fill="#CFCFCF"/>
<circle cx="51.59" cy="215.76" r="1.8" fill="#CFCFCF"/>
<circle cx="72.42" cy="216.36" r="1.8" fill="#CFCFCF"/>
<circle cx="77.01" cy="215.21" r="1.8" fill="#CFCFCF"/>
<circle cx="50.3" cy="221.23" r="1.8" fill="#CFCFCF"/>
<circle cx="64.79" cy="215.89" r="1.8" fill="#CFCFCF"/>
<circle cx="68.46" cy="221.49" r="1.8" fill="#CFCFCF"/>
<circle cx="83.77" cy="199.53" r="1.8" fill="#CFCFCF"/>
<circle cx="56.8" cy="205.92" r="1.8" fill="#CFCFCF"/>
<circle cx="67.32" cy="203.71" r="1.8" fill="#CFCFCF"/>
<circle cx="64.23" cy="202.75" r="1.8" fill="#CFCFCF"/>
<circle cx="73.67" cy="218.77" r="1.8" fill="#CFCFCF"/>
<circle cx="63.98" cy="217.49" r="1.8" fill="#CFCFCF"/>
<circle cx="58.62" cy="195.94" r="1.8" fill="#CFCFCF"/>
<circle cx="73.99" cy="212.36" r="1.8" fill="#CFCFCF"/>
<circle cx="55.32" cy="202.91" r="1.8" fill="#CFCFCF"/>
<circle cx="56.53" cy="231.32" r="1.8" fill="#CFCFCF"/>
<circle cx="73.43" cy="212.9" r="1.8" fill="#CFCFCF"/>
<circle cx="85.21" cy="209.92" r="1.8" fill="#CFCFCF"/>
<circle cx="81.47" cy="212.54" r="1.8" fill="#CFCFCF"/>
<circle cx="68.37" cy="199.38" r="1.8" fill="#CFCFCF"/>
<circle cx="61.69" cy="211.76" r="1.8" fill="#CFCFCF"/>
<circle cx="74.1" cy="208.74" r="1.8" fill="#CFCFCF"/>
<circle cx="93.32" cy="216.11" r="1.8" fill="#CFCFCF"/>
<circle cx="73.09" cy="210.64" r="1.8" fill="#CFCFCF"/>
<circle cx="71" cy="216.33" r="1.8" fill="#CFCFCF"/>
<circle cx="59.44" cy="207" r="1.8" fill="#CFCFCF"/>
<circle cx="67.43" cy="215.51" r="1.8" fill="#CFCFCF"/>
<circle cx="60.6" cy="201.03" r="1.8" fill="#CFCFCF"/>
<circle cx="68.55" cy="223.39" r="1.8" fill="#CFCFCF"/>
<circle cx="61.18" cy="214.91" r="1.8" fill="#CFCFCF"/>
<circle cx="65.82" cy="221.46" r="1.8" fill="#CFCFCF"/>
<circle cx="75.54" cy="198.35" r="1.8" fill="#CFCFCF"/>
<circle cx="59.43" cy="215.99" r="1.8" fill="#CFCFCF"/>
<circle cx="71.71" cy="200.45" r="1.8" fill="#CFCFCF"/>
<circle cx="54.66" cy="232.77" r="1.8" fill="#CFCFCF"/>
<circle cx="71.38" cy="212.79" r="1.8" fill="#CFCFCF"/>
<circle cx="51.66" cy="232.18" r="1.8" fill="#CFCFCF"/>
<circle cx="64.28" cy="210.15" r="1.8" fill="#CFCFCF"/>
<circle cx="62.83" cy="206.6" r="1.8" fill="#CFCFCF"/>
<circle cx="64.31" cy="200.63" r="1.8" fill="#CFCFCF"/>
<circle cx="67.48" cy="217.71" r="1.8" fill="#CFCFCF"/>
<circle cx="52.38" cy="198.42" r="1.8" fill="#CFCFCF"/>
<circle cx="71.53" cy="203.78" r="1.8" fill="#CFCFCF"/>
<circle cx="67" cy="203.44" r="1.8" fill="#CFCFCF"/>
<circle cx="45.9" cy="158.8" r="1.8" fill="#CFCFCF"/>
<circle cx="53.2" cy="169.6" r="1.8" fill="#CFCFCF"/>
<circle cx="53.4" cy="170.4" r="1.8" fill="#CFCFCF"/>
<circle cx="56.7" cy="178.6" r="1.8" fill="#CFCFCF"/>
<circle cx="51.4" cy="184.5" r="1.8" fill="#CFCFCF"/>
<circle cx="56.7" cy="183.9" r="1.8" fill="#CFCFCF"/>
<circle cx="64.1" cy="184.3" r="1.8" fill="#CFCFCF"/>
<circle cx="68" cy="180.2" r="1.8" fill="#CFCFCF"/>
<circle cx="68.1" cy="182.7" r="1.8" fill="#CFCFCF"/>
<circle cx="69.8" cy="185.9" r="1.8" fill="#CFCFCF"/>
<circle cx="79.2" cy="185.1" r="1.8" fill="#CFCFCF"/>
<circle cx="66.5" cy="188.8" r="1.8" fill="#CFCFCF"/>
<circle cx="66.1" cy="191.2" r="1.8" fill="#CFCFCF"/>
<circle cx="74.7" cy="189.6" r="1.8" fill="#CFCFCF"/>
<circle cx="72.2" cy="191.7" r="1.8" fill="#CFCFCF"/>
<circle cx="70.2" cy="193.7" r="1.8" fill="#CFCFCF"/>
<circle cx="73.5" cy="193.3" r="1.8" fill="#CFCFCF"/>
<circle cx="47.6" cy="193.5" r="1.8" fill="#CFCFCF"/>
<circle cx="50" cy="193.5" r="1.8" fill="#CFCFCF"/>
<circle cx="52.5" cy="193.5" r="1.8" fill="#CFCFCF"/>
<circle cx="54.3" cy="193.5" r="1.8" fill="#CFCFCF"/>
<circle cx="84.5" cy="193.7" r="1.8" fill="#CFCFCF"/>
<circle cx="88.2" cy="192.9" r="1.8" fill="#CFCFCF"/>
<circle cx="88.6" cy="193.2" r="1.8" fill="#CFCFCF"/>
<circle cx="93.6" cy="193.2" r="1.8" fill="#CFCFCF"/>
<circle cx="99.1" cy="195" r="1.8" fill="#CFCFCF"/>
<circle cx="99.1" cy="197.7" r="1.8" fill="#CFCFCF"/>
<circle cx="95.4" cy="197.2" r="1.8" fill="#CFCFCF"/>
<circle cx="91.8" cy="199.1" r="1.8" fill="#CFCFCF"/>
<circle cx="103.1" cy="198.6" r="1.8" fill="#CFCFCF"/>
<circle cx="105.4" cy="199.5" r="1.8" fill="#CFCFCF"/>
<circle cx="108.6" cy="201.8" r="1.8" fill="#CFCFCF"/>
<circle cx="124.9" cy="201.6" r="1.8" fill="#CFCFCF"/>
<circle cx="129" cy="208.1" r="1.8" fill="#CFCFCF"/>
<circle cx="109.5" cy="205.9" r="1.8" fill="#CFCFCF"/>
<circle cx="108.1" cy="206.8" r="1.8" fill="#CFCFCF"/>
<circle cx="103.1" cy="209" r="1.8" fill="#CFCFCF"/>
<circle cx="104.5" cy="210.9" r="1.8" fill="#CFCFCF"/>
<circle cx="97.3" cy="212.2" r="1.8" fill="#CFCFCF"/>
<circle cx="101.8" cy="212.2" r="1.8" fill="#CFCFCF"/>
<circle cx="110.4" cy="211.3" r="1.8" fill="#CFCFCF"/>
<circle cx="112.2" cy="213.6" r="1.8" fill="#CFCFCF"/>
<circle cx="104.5" cy="216.8" r="1.8" fill="#CFCFCF"/>
<circle cx="95.4" cy="216.3" r="1.8" fill="#CFCFCF"/>
<circle cx="114" cy="218.6" r="1.8" fill="#CFCFCF"/>
<circle cx="114" cy="224.5" r="1.8" fill="#CFCFCF"/>
<circle cx="92.3" cy="221.7" r="1.8" fill="#CFCFCF"/>
<circle cx="94.1" cy="224.5" r="1.8" fill="#CFCFCF"/>
<circle cx="86.4" cy="222.2" r="1.8" fill="#CFCFCF"/>
<circle cx="78.8" cy="221.3" r="1.8" fill="#CFCFCF"/>
<circle cx="78.8" cy="224.6" r="1.8" fill="#CFCFCF"/>
<circle cx="86.1" cy="222.2" r="1.8" fill="#CFCFCF"/>
<circle cx="91" cy="221.7" r="1.8" fill="#CFCFCF"/>
<circle cx="69.8" cy="225.8" r="1.8" fill="#CFCFCF"/>
<circle cx="69.8" cy="231.6" r="1.8" fill="#CFCFCF"/>
<circle cx="62.4" cy="228.7" r="1.8" fill="#CFCFCF"/>
<circle cx="62.4" cy="232" r="1.8" fill="#CFCFCF"/>
<circle cx="47.3" cy="231.6" r="1.8" fill="#CFCFCF"/>
<circle cx="51" cy="230" r="1.8" fill="#CFCFCF"/>
<circle cx="53" cy="231.5" r="1.8" fill="#CFCFCF"/>
<circle cx="55" cy="233" r="1.8" fill="#CFCFCF"/>
<circle cx="57.5" cy="232" r="1.8" fill="#CFCFCF"/>
<circle cx="51.5" cy="234.4" r="1.8" fill="#CFCFCF"/>
<circle cx="48.1" cy="237.7" r="1.8" fill="#CFCFCF"/>
<circle cx="49.8" cy="237.7" r="1.8" fill="#CFCFCF"/>
<circle cx="51.4" cy="242.6" r="1.8" fill="#CFCFCF"/>
<circle cx="53.4" cy="241.8" r="1.8" fill="#CFCFCF"/>
<circle cx="51.4" cy="245" r="1.8" fill="#CFCFCF"/>
<circle cx="47.7" cy="249.5" r="1.8" fill="#CFCFCF"/>
<circle cx="47.5" cy="250.4" r="1.8" fill="#CFCFCF"/>
<circle cx="47.5" cy="253.8" r="1.8" fill="#CFCFCF"/>
<circle cx="47.5" cy="260.6" r="1.8" fill="#CFCFCF"/>
<circle cx="45.9" cy="272.4" r="1.8" fill="#CFCFCF"/>
<circle cx="143.4" cy="197.7" r="1.8" fill="#CFCFCF"/>
<circle cx="152.6" cy="202.7" r="1.8" fill="#CFCFCF"/>
<circle cx="128.6" cy="207.9" r="1.8" fill="#CFCFCF"/>
<circle cx="49.5" cy="226" r="1.8" fill="#CFCFCF"/>
<circle cx="49.5" cy="229" r="1.8" fill="#CFCFCF"/>
<circle cx="52" cy="228" r="1.8" fill="#CFCFCF"/>
<circle cx="106" cy="203" r="1.8" fill="#CFCFCF"/>
<circle cx="107" cy="205" r="1.8" fill="#CFCFCF"/>
<circle cx="101" cy="206" r="1.8" fill="#CFCFCF"/>
<circle cx="98" cy="208" r="1.8" fill="#CFCFCF"/>
<circle cx="96" cy="204" r="1.8" fill="#CFCFCF"/>
<circle cx="104" cy="207" r="1.8" fill="#CFCFCF"/>
<rect x="223.5" y="153.2" width="179.9" height="125" fill="#F2F2F2"/>
<line x1="223.5" x2="403.4" y1="258.45" y2="258.45" stroke="#fff" stroke-width="0.55"/>
<line x1="223.5" x2="403.4" y1="229.95" y2="229.95" stroke="#fff" stroke-width="0.55"/>
<line x1="223.5" x2="403.4" y1="201.45" y2="201.45" stroke="#fff" stroke-width="0.55"/>
<line x1="223.5" x2="403.4" y1="172.95" y2="172.95" stroke="#fff" stroke-width="0.55"/>
<line x1="254.05" x2="254.05" y1="153.2" y2="278.2" stroke="#fff" stroke-width="0.55"/>
<line x1="298.75" x2="298.75" y1="153.2" y2="278.2" stroke="#fff" stroke-width="0.55"/>
<line x1="343.45" x2="343.45" y1="153.2" y2="278.2" stroke="#fff" stroke-width="0.55"/>
<line x1="388.15" x2="388.15" y1="153.2" y2="278.2" stroke="#fff" stroke-width="0.55"/>
<line x1="223.5" x2="403.4" y1="272.7" y2="272.7" stroke="#fff" stroke-width="1.1"/>
<line x1="223.5" x2="403.4" y1="244.2" y2="244.2" stroke="#fff" stroke-width="1.1"/>
<line x1="223.5" x2="403.4" y1="215.7" y2="215.7" stroke="#fff" stroke-width="1.1"/>
<line x1="223.5" x2="403.4" y1="187.2" y2="187.2" stroke="#fff" stroke-width="1.1"/>
<line x1="223.5" x2="403.4" y1="158.7" y2="158.7" stroke="#fff" stroke-width="1.1"/>
<line x1="231.7" x2="231.7" y1="153.2" y2="278.2" stroke="#fff" stroke-width="1.1"/>
<line x1="276.4" x2="276.4" y1="153.2" y2="278.2" stroke="#fff" stroke-width="1.1"/>
<line x1="321.1" x2="321.1" y1="153.2" y2="278.2" stroke="#fff" stroke-width="1.1"/>
<line x1="365.8" x2="365.8" y1="153.2" y2="278.2" stroke="#fff" stroke-width="1.1"/>
<line x1="223.5" x2="403.4" y1="215.7" y2="215.7" stroke="#333" stroke-width="1.25" stroke-dasharray="4.3 4.24" stroke-dashoffset="0.8"/>
<circle cx="231.7" cy="158.8" r="1.8" fill="#CFCFCF"/>
<circle cx="231.7" cy="272.5" r="1.8" fill="#CFCFCF"/>
<circle cx="242.88" cy="177.1" r="1.8" fill="#CFCFCF"/>
<circle cx="242.88" cy="181.2" r="1.8" fill="#CFCFCF"/>
<circle cx="242.88" cy="185.3" r="1.8" fill="#CFCFCF"/>
<circle cx="242.88" cy="244.1" r="1.8" fill="#CFCFCF"/>
<circle cx="242.88" cy="190.4" r="1.8" fill="#CFCFCF"/>
<circle cx="242.88" cy="192.75" r="1.8" fill="#CFCFCF"/>
<circle cx="242.88" cy="195.1" r="1.8" fill="#CFCFCF"/>
<circle cx="242.88" cy="197.45" r="1.8" fill="#CFCFCF"/>
<circle cx="242.88" cy="199.8" r="1.8" fill="#CFCFCF"/>
<circle cx="242.88" cy="202.15" r="1.8" fill="#CFCFCF"/>
<circle cx="242.88" cy="204.5" r="1.8" fill="#CFCFCF"/>
<circle cx="242.88" cy="206.85" r="1.8" fill="#CFCFCF"/>
<circle cx="242.88" cy="209.2" r="1.8" fill="#CFCFCF"/>
<circle cx="242.88" cy="211.55" r="1.8" fill="#CFCFCF"/>
<circle cx="242.88" cy="213.9" r="1.8" fill="#CFCFCF"/>
<circle cx="242.88" cy="216.25" r="1.8" fill="#CFCFCF"/>
<circle cx="242.88" cy="218.6" r="1.8" fill="#CFCFCF"/>
<circle cx="242.88" cy="220.95" r="1.8" fill="#CFCFCF"/>
<circle cx="242.88" cy="223.3" r="1.8" fill="#CFCFCF"/>
<circle cx="242.88" cy="225.65" r="1.8" fill="#CFCFCF"/>
<circle cx="242.88" cy="228" r="1.8" fill="#CFCFCF"/>
<circle cx="242.88" cy="230.35" r="1.8" fill="#CFCFCF"/>
<circle cx="242.88" cy="232.7" r="1.8" fill="#CFCFCF"/>
<circle cx="242.88" cy="235.05" r="1.8" fill="#CFCFCF"/>
<circle cx="242.88" cy="237.4" r="1.8" fill="#CFCFCF"/>
<circle cx="254.05" cy="170" r="1.8" fill="#CFCFCF"/>
<circle cx="254.05" cy="172.31" r="1.8" fill="#CFCFCF"/>
<circle cx="254.05" cy="174.62" r="1.8" fill="#CFCFCF"/>
<circle cx="254.05" cy="176.93" r="1.8" fill="#CFCFCF"/>
<circle cx="254.05" cy="179.25" r="1.8" fill="#CFCFCF"/>
<circle cx="254.05" cy="181.56" r="1.8" fill="#CFCFCF"/>
<circle cx="254.05" cy="183.87" r="1.8" fill="#CFCFCF"/>
<circle cx="254.05" cy="186.18" r="1.8" fill="#CFCFCF"/>
<circle cx="254.05" cy="188.49" r="1.8" fill="#CFCFCF"/>
<circle cx="254.05" cy="190.8" r="1.8" fill="#CFCFCF"/>
<circle cx="254.05" cy="193.12" r="1.8" fill="#CFCFCF"/>
<circle cx="254.05" cy="195.43" r="1.8" fill="#CFCFCF"/>
<circle cx="254.05" cy="197.74" r="1.8" fill="#CFCFCF"/>
<circle cx="254.05" cy="200.05" r="1.8" fill="#CFCFCF"/>
<circle cx="254.05" cy="202.36" r="1.8" fill="#CFCFCF"/>
<circle cx="254.05" cy="204.67" r="1.8" fill="#CFCFCF"/>
<circle cx="254.05" cy="206.98" r="1.8" fill="#CFCFCF"/>
<circle cx="254.05" cy="209.3" r="1.8" fill="#CFCFCF"/>
<circle cx="254.05" cy="211.61" r="1.8" fill="#CFCFCF"/>
<circle cx="254.05" cy="213.92" r="1.8" fill="#CFCFCF"/>
<circle cx="254.05" cy="216.23" r="1.8" fill="#CFCFCF"/>
<circle cx="254.05" cy="218.54" r="1.8" fill="#CFCFCF"/>
<circle cx="254.05" cy="220.85" r="1.8" fill="#CFCFCF"/>
<circle cx="254.05" cy="223.17" r="1.8" fill="#CFCFCF"/>
<circle cx="254.05" cy="225.48" r="1.8" fill="#CFCFCF"/>
<circle cx="254.05" cy="227.79" r="1.8" fill="#CFCFCF"/>
<circle cx="254.05" cy="230.1" r="1.8" fill="#CFCFCF"/>
<circle cx="254.05" cy="235.1" r="1.8" fill="#CFCFCF"/>
<circle cx="265.22" cy="174.7" r="1.8" fill="#CFCFCF"/>
<circle cx="265.22" cy="176.3" r="1.8" fill="#CFCFCF"/>
<circle cx="265.22" cy="183.7" r="1.8" fill="#CFCFCF"/>
<circle cx="265.22" cy="224.5" r="1.8" fill="#CFCFCF"/>
<circle cx="265.22" cy="231.9" r="1.8" fill="#CFCFCF"/>
<circle cx="265.22" cy="188.8" r="1.8" fill="#CFCFCF"/>
<circle cx="265.22" cy="191.03" r="1.8" fill="#CFCFCF"/>
<circle cx="265.22" cy="193.26" r="1.8" fill="#CFCFCF"/>
<circle cx="265.22" cy="195.49" r="1.8" fill="#CFCFCF"/>
<circle cx="265.22" cy="197.72" r="1.8" fill="#CFCFCF"/>
<circle cx="265.22" cy="199.95" r="1.8" fill="#CFCFCF"/>
<circle cx="265.22" cy="202.18" r="1.8" fill="#CFCFCF"/>
<circle cx="265.22" cy="204.42" r="1.8" fill="#CFCFCF"/>
<circle cx="265.22" cy="206.65" r="1.8" fill="#CFCFCF"/>
<circle cx="265.22" cy="208.88" r="1.8" fill="#CFCFCF"/>
<circle cx="265.22" cy="211.11" r="1.8" fill="#CFCFCF"/>
<circle cx="265.22" cy="213.34" r="1.8" fill="#CFCFCF"/>
<circle cx="265.22" cy="215.57" r="1.8" fill="#CFCFCF"/>
<circle cx="265.22" cy="217.8" r="1.8" fill="#CFCFCF"/>
<circle cx="276.4" cy="166.2" r="1.8" fill="#CFCFCF"/>
<circle cx="276.4" cy="176.3" r="1.8" fill="#CFCFCF"/>
<circle cx="276.4" cy="178.55" r="1.8" fill="#CFCFCF"/>
<circle cx="276.4" cy="180.8" r="1.8" fill="#CFCFCF"/>
<circle cx="276.4" cy="183.04" r="1.8" fill="#CFCFCF"/>
<circle cx="276.4" cy="185.29" r="1.8" fill="#CFCFCF"/>
<circle cx="276.4" cy="187.54" r="1.8" fill="#CFCFCF"/>
<circle cx="276.4" cy="189.79" r="1.8" fill="#CFCFCF"/>
<circle cx="276.4" cy="192.03" r="1.8" fill="#CFCFCF"/>
<circle cx="276.4" cy="194.28" r="1.8" fill="#CFCFCF"/>
<circle cx="276.4" cy="196.53" r="1.8" fill="#CFCFCF"/>
<circle cx="276.4" cy="198.78" r="1.8" fill="#CFCFCF"/>
<circle cx="276.4" cy="201.02" r="1.8" fill="#CFCFCF"/>
<circle cx="276.4" cy="203.27" r="1.8" fill="#CFCFCF"/>
<circle cx="276.4" cy="205.52" r="1.8" fill="#CFCFCF"/>
<circle cx="276.4" cy="207.77" r="1.8" fill="#CFCFCF"/>
<circle cx="276.4" cy="210.01" r="1.8" fill="#CFCFCF"/>
<circle cx="276.4" cy="212.26" r="1.8" fill="#CFCFCF"/>
<circle cx="276.4" cy="214.51" r="1.8" fill="#CFCFCF"/>
<circle cx="276.4" cy="216.76" r="1.8" fill="#CFCFCF"/>
<circle cx="276.4" cy="219" r="1.8" fill="#CFCFCF"/>
<circle cx="276.4" cy="221.25" r="1.8" fill="#CFCFCF"/>
<circle cx="276.4" cy="223.5" r="1.8" fill="#CFCFCF"/>
<circle cx="276.4" cy="239.2" r="1.8" fill="#CFCFCF"/>
<circle cx="287.57" cy="180.6" r="1.8" fill="#CFCFCF"/>
<circle cx="287.57" cy="183" r="1.8" fill="#CFCFCF"/>
<circle cx="287.57" cy="185.4" r="1.8" fill="#CFCFCF"/>
<circle cx="287.57" cy="187.8" r="1.8" fill="#CFCFCF"/>
<circle cx="287.57" cy="190.2" r="1.8" fill="#CFCFCF"/>
<circle cx="287.57" cy="192.6" r="1.8" fill="#CFCFCF"/>
<circle cx="287.57" cy="195" r="1.8" fill="#CFCFCF"/>
<circle cx="287.57" cy="197.4" r="1.8" fill="#CFCFCF"/>
<circle cx="287.57" cy="203.8" r="1.8" fill="#CFCFCF"/>
<circle cx="287.57" cy="224" r="1.8" fill="#CFCFCF"/>
<circle cx="287.57" cy="229.4" r="1.8" fill="#CFCFCF"/>
<circle cx="298.75" cy="178.2" r="1.8" fill="#CFCFCF"/>
<circle cx="298.75" cy="180.4" r="1.8" fill="#CFCFCF"/>
<circle cx="298.75" cy="182.6" r="1.8" fill="#CFCFCF"/>
<circle cx="298.75" cy="184.8" r="1.8" fill="#CFCFCF"/>
<circle cx="298.75" cy="187" r="1.8" fill="#CFCFCF"/>
<circle cx="298.75" cy="189.2" r="1.8" fill="#CFCFCF"/>
<circle cx="298.75" cy="191.4" r="1.8" fill="#CFCFCF"/>
<circle cx="298.75" cy="193.6" r="1.8" fill="#CFCFCF"/>
<circle cx="298.75" cy="195.8" r="1.8" fill="#CFCFCF"/>
<circle cx="298.75" cy="202.7" r="1.8" fill="#CFCFCF"/>
<circle cx="298.75" cy="204.77" r="1.8" fill="#CFCFCF"/>
<circle cx="298.75" cy="206.83" r="1.8" fill="#CFCFCF"/>
<circle cx="298.75" cy="208.9" r="1.8" fill="#CFCFCF"/>
<circle cx="298.75" cy="227.8" r="1.8" fill="#CFCFCF"/>
<circle cx="309.93" cy="179.9" r="1.8" fill="#CFCFCF"/>
<circle cx="309.93" cy="185.3" r="1.8" fill="#CFCFCF"/>
<circle cx="309.93" cy="187.2" r="1.8" fill="#CFCFCF"/>
<circle cx="309.93" cy="189.1" r="1.8" fill="#CFCFCF"/>
<circle cx="309.93" cy="197.3" r="1.8" fill="#CFCFCF"/>
<circle cx="309.93" cy="211" r="1.8" fill="#CFCFCF"/>
<circle cx="309.93" cy="225.4" r="1.8" fill="#CFCFCF"/>
<circle cx="321.1" cy="172.3" r="1.8" fill="#CFCFCF"/>
<circle cx="321.1" cy="181.7" r="1.8" fill="#CFCFCF"/>
<circle cx="321.1" cy="185.3" r="1.8" fill="#CFCFCF"/>
<circle cx="321.1" cy="188.6" r="1.8" fill="#CFCFCF"/>
<circle cx="321.1" cy="198.6" r="1.8" fill="#CFCFCF"/>
<circle cx="321.1" cy="207.7" r="1.8" fill="#CFCFCF"/>
<circle cx="332.27" cy="192.4" r="1.8" fill="#CFCFCF"/>
<circle cx="354.62" cy="193.5" r="1.8" fill="#CFCFCF"/>
<rect x="409.4" y="153.2" width="179.9" height="125" fill="#F2F2F2"/>
<line x1="409.4" x2="589.3" y1="258.45" y2="258.45" stroke="#fff" stroke-width="0.55"/>
<line x1="409.4" x2="589.3" y1="229.95" y2="229.95" stroke="#fff" stroke-width="0.55"/>
<line x1="409.4" x2="589.3" y1="201.45" y2="201.45" stroke="#fff" stroke-width="0.55"/>
<line x1="409.4" x2="589.3" y1="172.95" y2="172.95" stroke="#fff" stroke-width="0.55"/>
<line x1="439.95" x2="439.95" y1="153.2" y2="278.2" stroke="#fff" stroke-width="0.55"/>
<line x1="484.65" x2="484.65" y1="153.2" y2="278.2" stroke="#fff" stroke-width="0.55"/>
<line x1="529.35" x2="529.35" y1="153.2" y2="278.2" stroke="#fff" stroke-width="0.55"/>
<line x1="574.05" x2="574.05" y1="153.2" y2="278.2" stroke="#fff" stroke-width="0.55"/>
<line x1="409.4" x2="589.3" y1="272.7" y2="272.7" stroke="#fff" stroke-width="1.1"/>
<line x1="409.4" x2="589.3" y1="244.2" y2="244.2" stroke="#fff" stroke-width="1.1"/>
<line x1="409.4" x2="589.3" y1="215.7" y2="215.7" stroke="#fff" stroke-width="1.1"/>
<line x1="409.4" x2="589.3" y1="187.2" y2="187.2" stroke="#fff" stroke-width="1.1"/>
<line x1="409.4" x2="589.3" y1="158.7" y2="158.7" stroke="#fff" stroke-width="1.1"/>
<line x1="417.6" x2="417.6" y1="153.2" y2="278.2" stroke="#fff" stroke-width="1.1"/>
<line x1="462.3" x2="462.3" y1="153.2" y2="278.2" stroke="#fff" stroke-width="1.1"/>
<line x1="507" x2="507" y1="153.2" y2="278.2" stroke="#fff" stroke-width="1.1"/>
<line x1="551.7" x2="551.7" y1="153.2" y2="278.2" stroke="#fff" stroke-width="1.1"/>
<line x1="409.4" x2="589.3" y1="215.7" y2="215.7" stroke="#333" stroke-width="1.25" stroke-dasharray="4.3 4.24" stroke-dashoffset="0.8"/>
<circle cx="417.6" cy="158.8" r="1.8" fill="#CFCFCF"/>
<circle cx="417.6" cy="272.5" r="1.8" fill="#CFCFCF"/>
<circle cx="432.5" cy="173.4" r="1.8" fill="#CFCFCF"/>
<circle cx="432.5" cy="179.1" r="1.8" fill="#CFCFCF"/>
<circle cx="432.5" cy="181.38" r="1.8" fill="#CFCFCF"/>
<circle cx="432.5" cy="183.66" r="1.8" fill="#CFCFCF"/>
<circle cx="432.5" cy="185.94" r="1.8" fill="#CFCFCF"/>
<circle cx="432.5" cy="188.22" r="1.8" fill="#CFCFCF"/>
<circle cx="432.5" cy="190.5" r="1.8" fill="#CFCFCF"/>
<circle cx="432.5" cy="192.78" r="1.8" fill="#CFCFCF"/>
<circle cx="432.5" cy="195.06" r="1.8" fill="#CFCFCF"/>
<circle cx="432.5" cy="197.33" r="1.8" fill="#CFCFCF"/>
<circle cx="432.5" cy="199.61" r="1.8" fill="#CFCFCF"/>
<circle cx="432.5" cy="201.89" r="1.8" fill="#CFCFCF"/>
<circle cx="432.5" cy="204.17" r="1.8" fill="#CFCFCF"/>
<circle cx="432.5" cy="206.45" r="1.8" fill="#CFCFCF"/>
<circle cx="432.5" cy="208.73" r="1.8" fill="#CFCFCF"/>
<circle cx="432.5" cy="211.01" r="1.8" fill="#CFCFCF"/>
<circle cx="432.5" cy="213.29" r="1.8" fill="#CFCFCF"/>
<circle cx="432.5" cy="215.57" r="1.8" fill="#CFCFCF"/>
<circle cx="432.5" cy="217.85" r="1.8" fill="#CFCFCF"/>
<circle cx="432.5" cy="220.13" r="1.8" fill="#CFCFCF"/>
<circle cx="432.5" cy="222.41" r="1.8" fill="#CFCFCF"/>
<circle cx="432.5" cy="224.69" r="1.8" fill="#CFCFCF"/>
<circle cx="432.5" cy="226.97" r="1.8" fill="#CFCFCF"/>
<circle cx="432.5" cy="229.24" r="1.8" fill="#CFCFCF"/>
<circle cx="432.5" cy="231.52" r="1.8" fill="#CFCFCF"/>
<circle cx="432.5" cy="233.8" r="1.8" fill="#CFCFCF"/>
<circle cx="432.5" cy="236.08" r="1.8" fill="#CFCFCF"/>
<circle cx="432.5" cy="238.36" r="1.8" fill="#CFCFCF"/>
<circle cx="432.5" cy="240.64" r="1.8" fill="#CFCFCF"/>
<circle cx="432.5" cy="242.92" r="1.8" fill="#CFCFCF"/>
<circle cx="432.5" cy="245.2" r="1.8" fill="#CFCFCF"/>
<circle cx="432.5" cy="253.9" r="1.8" fill="#CFCFCF"/>
<circle cx="447.4" cy="164.4" r="1.8" fill="#CFCFCF"/>
<circle cx="447.4" cy="170.7" r="1.8" fill="#CFCFCF"/>
<circle cx="447.4" cy="175.2" r="1.8" fill="#CFCFCF"/>
<circle cx="447.4" cy="233.9" r="1.8" fill="#CFCFCF"/>
<circle cx="447.4" cy="237.5" r="1.8" fill="#CFCFCF"/>
<circle cx="447.4" cy="179.1" r="1.8" fill="#CFCFCF"/>
<circle cx="447.4" cy="181.41" r="1.8" fill="#CFCFCF"/>
<circle cx="447.4" cy="183.73" r="1.8" fill="#CFCFCF"/>
<circle cx="447.4" cy="186.04" r="1.8" fill="#CFCFCF"/>
<circle cx="447.4" cy="188.36" r="1.8" fill="#CFCFCF"/>
<circle cx="447.4" cy="190.67" r="1.8" fill="#CFCFCF"/>
<circle cx="447.4" cy="192.99" r="1.8" fill="#CFCFCF"/>
<circle cx="447.4" cy="195.3" r="1.8" fill="#CFCFCF"/>
<circle cx="447.4" cy="197.61" r="1.8" fill="#CFCFCF"/>
<circle cx="447.4" cy="199.93" r="1.8" fill="#CFCFCF"/>
<circle cx="447.4" cy="202.24" r="1.8" fill="#CFCFCF"/>
<circle cx="447.4" cy="204.56" r="1.8" fill="#CFCFCF"/>
<circle cx="447.4" cy="206.87" r="1.8" fill="#CFCFCF"/>
<circle cx="447.4" cy="209.19" r="1.8" fill="#CFCFCF"/>
<circle cx="447.4" cy="211.5" r="1.8" fill="#CFCFCF"/>
<circle cx="447.4" cy="213.81" r="1.8" fill="#CFCFCF"/>
<circle cx="447.4" cy="216.13" r="1.8" fill="#CFCFCF"/>
<circle cx="447.4" cy="218.44" r="1.8" fill="#CFCFCF"/>
<circle cx="447.4" cy="220.76" r="1.8" fill="#CFCFCF"/>
<circle cx="447.4" cy="223.07" r="1.8" fill="#CFCFCF"/>
<circle cx="447.4" cy="225.39" r="1.8" fill="#CFCFCF"/>
<circle cx="447.4" cy="227.7" r="1.8" fill="#CFCFCF"/>
<circle cx="462.3" cy="172.2" r="1.8" fill="#CFCFCF"/>
<circle cx="462.3" cy="183.6" r="1.8" fill="#CFCFCF"/>
<circle cx="462.3" cy="185.91" r="1.8" fill="#CFCFCF"/>
<circle cx="462.3" cy="188.21" r="1.8" fill="#CFCFCF"/>
<circle cx="462.3" cy="190.52" r="1.8" fill="#CFCFCF"/>
<circle cx="462.3" cy="192.83" r="1.8" fill="#CFCFCF"/>
<circle cx="462.3" cy="195.14" r="1.8" fill="#CFCFCF"/>
<circle cx="462.3" cy="197.44" r="1.8" fill="#CFCFCF"/>
<circle cx="462.3" cy="199.75" r="1.8" fill="#CFCFCF"/>
<circle cx="462.3" cy="202.06" r="1.8" fill="#CFCFCF"/>
<circle cx="462.3" cy="204.36" r="1.8" fill="#CFCFCF"/>
<circle cx="462.3" cy="206.67" r="1.8" fill="#CFCFCF"/>
<circle cx="462.3" cy="208.98" r="1.8" fill="#CFCFCF"/>
<circle cx="462.3" cy="211.29" r="1.8" fill="#CFCFCF"/>
<circle cx="462.3" cy="213.59" r="1.8" fill="#CFCFCF"/>
<circle cx="462.3" cy="215.9" r="1.8" fill="#CFCFCF"/>
<circle cx="462.3" cy="227.9" r="1.8" fill="#CFCFCF"/>
<circle cx="477.2" cy="180.7" r="1.8" fill="#CFCFCF"/>
<circle cx="477.2" cy="183.4" r="1.8" fill="#CFCFCF"/>
<circle cx="477.2" cy="188.2" r="1.8" fill="#CFCFCF"/>
<circle cx="477.2" cy="190.61" r="1.8" fill="#CFCFCF"/>
<circle cx="477.2" cy="193.02" r="1.8" fill="#CFCFCF"/>
<circle cx="477.2" cy="195.43" r="1.8" fill="#CFCFCF"/>
<circle cx="477.2" cy="197.84" r="1.8" fill="#CFCFCF"/>
<circle cx="477.2" cy="200.25" r="1.8" fill="#CFCFCF"/>
<circle cx="477.2" cy="202.66" r="1.8" fill="#CFCFCF"/>
<circle cx="477.2" cy="205.07" r="1.8" fill="#CFCFCF"/>
<circle cx="477.2" cy="207.48" r="1.8" fill="#CFCFCF"/>
<circle cx="477.2" cy="209.89" r="1.8" fill="#CFCFCF"/>
<circle cx="477.2" cy="212.3" r="1.8" fill="#CFCFCF"/>
<circle cx="477.2" cy="218.3" r="1.8" fill="#CFCFCF"/>
<circle cx="477.2" cy="232.8" r="1.8" fill="#CFCFCF"/>
<circle cx="492.1" cy="182" r="1.8" fill="#CFCFCF"/>
<circle cx="492.1" cy="187.6" r="1.8" fill="#CFCFCF"/>
<circle cx="492.1" cy="189.2" r="1.8" fill="#CFCFCF"/>
<circle cx="492.1" cy="190.7" r="1.8" fill="#CFCFCF"/>
<circle cx="492.1" cy="195.2" r="1.8" fill="#CFCFCF"/>
<circle cx="492.1" cy="200.7" r="1.8" fill="#CFCFCF"/>
<circle cx="492.1" cy="202.5" r="1.8" fill="#CFCFCF"/>
<circle cx="492.1" cy="208.3" r="1.8" fill="#CFCFCF"/>
<circle cx="492.1" cy="213.4" r="1.8" fill="#CFCFCF"/>
<circle cx="507" cy="184.3" r="1.8" fill="#CFCFCF"/>
<circle cx="507" cy="191.2" r="1.8" fill="#CFCFCF"/>
<circle cx="507" cy="193.4" r="1.8" fill="#CFCFCF"/>
<circle cx="507" cy="199.4" r="1.8" fill="#CFCFCF"/>
<circle cx="507" cy="201.6" r="1.8" fill="#CFCFCF"/>
<circle cx="507" cy="206.1" r="1.8" fill="#CFCFCF"/>
<circle cx="507" cy="207.9" r="1.8" fill="#CFCFCF"/>
<circle cx="507" cy="217.9" r="1.8" fill="#CFCFCF"/>
<circle cx="521.9" cy="198.3" r="1.8" fill="#CFCFCF"/>
<circle cx="581.5" cy="167.4" r="1.8" fill="#CFCFCF"/>
<line x1="57.6" x2="57.6" y1="72.68" y2="47.29" stroke="#E8B238" stroke-width="2.2"/>
<circle cx="57.6" cy="58.61" r="2.3" fill="#E8B238"/>
<line x1="63.32" x2="63.32" y1="75.3" y2="53.89" stroke="#E8B238" stroke-width="2.2"/>
<circle cx="63.32" cy="63.88" r="2.3" fill="#E8B238"/>
<line x1="73.87" x2="73.87" y1="77.37" y2="60" stroke="#E8B238" stroke-width="2.2"/>
<circle cx="73.87" cy="68.37" r="2.3" fill="#E8B238"/>
<line x1="96.04" x2="96.04" y1="70.18" y2="57.03" stroke="#C9302B" stroke-width="2.0"/>
<circle cx="96.04" cy="63.31" r="5" fill="#C9302B"/>
<line x1="147.18" x2="147.18" y1="108.08" y2="96.06" stroke="#C9302B" stroke-width="2.0"/>
<circle cx="147.18" cy="102.31" r="5" fill="#C9302B"/>
<line x1="188.12" x2="188.12" y1="74.91" y2="61.53" stroke="#C9302B" stroke-width="2.0"/>
<circle cx="188.12" cy="68.08" r="5" fill="#C9302B"/>
<line x1="47.05" x2="47.05" y1="139.56" y2="129.9" stroke="#C9302B" stroke-width="2.0"/>
<circle cx="47.05" cy="132.9" r="5" fill="#C9302B"/>
<line x1="47.59" x2="47.59" y1="138.48" y2="125.24" stroke="#C9302B" stroke-width="2.0"/>
<circle cx="47.59" cy="133.7" r="5" fill="#C9302B"/>
<line x1="242.07" x2="242.07" y1="139.56" y2="120.48" stroke="#C9302B" stroke-width="2.0"/>
<circle cx="242.07" cy="132.39" r="5" fill="#C9302B"/>
<line x1="394.94" x2="394.94" y1="68.81" y2="36.69" stroke="#E8B238" stroke-width="2.2"/>
<circle cx="394.94" cy="49.94" r="2.3" fill="#E8B238"/>
<line x1="75.3" x2="75.3" y1="266.25" y2="251.38" stroke="#C9302B" stroke-width="2.0"/>
<circle cx="75.3" cy="260.49" r="5" fill="#C9302B"/>
<line x1="176.68" x2="176.68" y1="192.33" y2="172.43" stroke="#C9302B" stroke-width="2.0"/>
<circle cx="176.68" cy="180.97" r="5" fill="#C9302B"/>
<line x1="56.3" y1="47.6" x2="57.5" y2="57.3" stroke="#000" stroke-width="1.1"/>
<text x="42.2" y="45.4" font-size="8.2" font-style="italic" fill="#111">SMAD2</text>
<line x1="67.3" y1="61" x2="64.2" y2="63.4" stroke="#000" stroke-width="1.1"/>
<text x="63.9" y="58.6" font-size="8.2" font-style="italic" fill="#111">AMER1</text>
<line x1="74.6" y1="68.4" x2="77.6" y2="70.6" stroke="#000" stroke-width="1.1"/>
<text x="71.4" y="78.8" font-size="8.2" font-style="italic" fill="#111">FBXW7</text>
<line x1="97.6" y1="58.2" x2="96.3" y2="62.6" stroke="#000" stroke-width="1.1"/>
<text x="100.1" y="58.6" font-size="8.2" font-style="italic" fill="#111">PIK3CA</text>
<line x1="150" y1="99.2" x2="147.8" y2="101.4" stroke="#000" stroke-width="1.1"/>
<text x="149.3" y="97.3" font-size="8.2" font-style="italic" fill="#111">TP53</text>
<line x1="188.8" y1="69" x2="188.8" y2="72.4" stroke="#000" stroke-width="1.1"/>
<text x="191" y="78.5" font-size="8.2" font-style="italic" fill="#111">APC</text>
<line x1="50.6" y1="130" x2="48.2" y2="132.4" stroke="#000" stroke-width="1.1"/>
<text x="47" y="127.9" font-size="8.2" font-style="italic" fill="#111">NRAS</text>
<line x1="49" y1="135.2" x2="51" y2="138" stroke="#000" stroke-width="1.1"/>
<text x="53.6" y="143.8" font-size="8.2" font-style="italic" fill="#111">BRAF</text>
<line x1="244" y1="133.2" x2="246.5" y2="132" stroke="#000" stroke-width="1.1"/>
<text x="247.3" y="134.6" font-size="8.2" font-style="italic" fill="#111">KRAS</text>
<line x1="390.8" y1="49.8" x2="393.4" y2="49.9" stroke="#000" stroke-width="1.1"/>
<text x="373.2" y="52.9" font-size="8.2" font-style="italic" fill="#111">APC</text>
<line x1="76.6" y1="259.8" x2="79.6" y2="261.3" stroke="#000" stroke-width="1.1"/>
<text x="81" y="264.3" font-size="8.2" font-style="italic" fill="#111">BRAF</text>
<line x1="177.8" y1="181" x2="180.6" y2="181" stroke="#000" stroke-width="1.1"/>
<text x="182.2" y="184" font-size="8.2" font-style="italic" fill="#111">APC</text>
<rect x="37.6" y="22.3" width="179.9" height="125" fill="none" stroke="#A3A3A3" stroke-width="1"/>
<rect x="223.5" y="22.3" width="179.9" height="125" fill="none" stroke="#A3A3A3" stroke-width="1"/>
<rect x="409.4" y="22.3" width="179.9" height="125" fill="none" stroke="#A3A3A3" stroke-width="1"/>
<rect x="37.6" y="153.2" width="179.9" height="125" fill="none" stroke="#A3A3A3" stroke-width="1"/>
<rect x="223.5" y="153.2" width="179.9" height="125" fill="none" stroke="#A3A3A3" stroke-width="1"/>
<rect x="409.4" y="153.2" width="179.9" height="125" fill="none" stroke="#A3A3A3" stroke-width="1"/>
<rect x="37.6" y="1.45" width="179.9" height="20.85" fill="#D9D9D9" stroke="#A3A3A3" stroke-width="1"/>
<text x="128.55" y="15.9" font-size="12.4" font-style="italic" text-anchor="middle" fill="#1A1A1A">KRAS</text>
<rect x="223.5" y="1.45" width="179.9" height="20.85" fill="#D9D9D9" stroke="#A3A3A3" stroke-width="1"/>
<text x="314.45" y="15.9" font-size="12.4" font-style="italic" text-anchor="middle" fill="#1A1A1A">NRAS</text>
<rect x="409.4" y="1.45" width="179.9" height="20.85" fill="#D9D9D9" stroke="#A3A3A3" stroke-width="1"/>
<text x="500.35" y="15.9" font-size="12.4" font-style="italic" text-anchor="middle" fill="#1A1A1A">HRAS</text>
<rect x="589.3" y="22.3" width="21.3" height="125" fill="#D9D9D9" stroke="#A3A3A3" stroke-width="1"/>
<text transform="translate(595.0,84.8) rotate(90)" font-size="12.8" text-anchor="middle" fill="#1A1A1A">MSS</text>
<rect x="589.3" y="153.2" width="21.3" height="125" fill="#D9D9D9" stroke="#A3A3A3" stroke-width="1"/>
<text transform="translate(595.0,215.7) rotate(90)" font-size="12.8" text-anchor="middle" fill="#1A1A1A">MSI/HYPER</text>
<line x1="34.9" x2="37.6" y1="27.8" y2="27.8" stroke="#333" stroke-width="1.05"/>
<text x="32.4" y="31.55" font-size="9.6" text-anchor="end" fill="#4D4D4D">1.0</text>
<line x1="34.9" x2="37.6" y1="56.3" y2="56.3" stroke="#333" stroke-width="1.05"/>
<text x="32.4" y="60.05" font-size="9.6" text-anchor="end" fill="#4D4D4D">0.5</text>
<line x1="34.9" x2="37.6" y1="84.8" y2="84.8" stroke="#333" stroke-width="1.05"/>
<text x="32.4" y="88.55" font-size="9.6" text-anchor="end" fill="#4D4D4D">0.0</text>
<line x1="34.9" x2="37.6" y1="113.3" y2="113.3" stroke="#333" stroke-width="1.05"/>
<text x="32.4" y="117.05" font-size="9.6" text-anchor="end" fill="#4D4D4D">-0.5</text>
<line x1="34.9" x2="37.6" y1="141.8" y2="141.8" stroke="#333" stroke-width="1.05"/>
<text x="32.4" y="145.55" font-size="9.6" text-anchor="end" fill="#4D4D4D">-1.0</text>
<line x1="34.9" x2="37.6" y1="158.7" y2="158.7" stroke="#333" stroke-width="1.05"/>
<text x="32.4" y="162.45" font-size="9.6" text-anchor="end" fill="#4D4D4D">1.0</text>
<line x1="34.9" x2="37.6" y1="187.2" y2="187.2" stroke="#333" stroke-width="1.05"/>
<text x="32.4" y="190.95" font-size="9.6" text-anchor="end" fill="#4D4D4D">0.5</text>
<line x1="34.9" x2="37.6" y1="215.7" y2="215.7" stroke="#333" stroke-width="1.05"/>
<text x="32.4" y="219.45" font-size="9.6" text-anchor="end" fill="#4D4D4D">0.0</text>
<line x1="34.9" x2="37.6" y1="244.2" y2="244.2" stroke="#333" stroke-width="1.05"/>
<text x="32.4" y="247.95" font-size="9.6" text-anchor="end" fill="#4D4D4D">-0.5</text>
<line x1="34.9" x2="37.6" y1="272.7" y2="272.7" stroke="#333" stroke-width="1.05"/>
<text x="32.4" y="276.45" font-size="9.6" text-anchor="end" fill="#4D4D4D">-1.0</text>
<line x1="45.8" x2="45.8" y1="278.2" y2="280.9" stroke="#333" stroke-width="1.05"/>
<text x="45.8" y="290.6" font-size="9.6" text-anchor="middle" fill="#4D4D4D">0</text>
<line x1="90.5" x2="90.5" y1="278.2" y2="280.9" stroke="#333" stroke-width="1.05"/>
<text x="90.5" y="290.6" font-size="9.6" text-anchor="middle" fill="#4D4D4D">25</text>
<line x1="135.2" x2="135.2" y1="278.2" y2="280.9" stroke="#333" stroke-width="1.05"/>
<text x="135.2" y="290.6" font-size="9.6" text-anchor="middle" fill="#4D4D4D">50</text>
<line x1="179.9" x2="179.9" y1="278.2" y2="280.9" stroke="#333" stroke-width="1.05"/>
<text x="179.9" y="290.6" font-size="9.6" text-anchor="middle" fill="#4D4D4D">75</text>
<line x1="231.7" x2="231.7" y1="278.2" y2="280.9" stroke="#333" stroke-width="1.05"/>
<text x="231.7" y="290.6" font-size="9.6" text-anchor="middle" fill="#4D4D4D">0</text>
<line x1="276.4" x2="276.4" y1="278.2" y2="280.9" stroke="#333" stroke-width="1.05"/>
<text x="276.4" y="290.6" font-size="9.6" text-anchor="middle" fill="#4D4D4D">25</text>
<line x1="321.1" x2="321.1" y1="278.2" y2="280.9" stroke="#333" stroke-width="1.05"/>
<text x="321.1" y="290.6" font-size="9.6" text-anchor="middle" fill="#4D4D4D">50</text>
<line x1="365.8" x2="365.8" y1="278.2" y2="280.9" stroke="#333" stroke-width="1.05"/>
<text x="365.8" y="290.6" font-size="9.6" text-anchor="middle" fill="#4D4D4D">75</text>
<line x1="417.6" x2="417.6" y1="278.2" y2="280.9" stroke="#333" stroke-width="1.05"/>
<text x="417.6" y="290.6" font-size="9.6" text-anchor="middle" fill="#4D4D4D">0</text>
<line x1="462.3" x2="462.3" y1="278.2" y2="280.9" stroke="#333" stroke-width="1.05"/>
<text x="462.3" y="290.6" font-size="9.6" text-anchor="middle" fill="#4D4D4D">25</text>
<line x1="507" x2="507" y1="278.2" y2="280.9" stroke="#333" stroke-width="1.05"/>
<text x="507" y="290.6" font-size="9.6" text-anchor="middle" fill="#4D4D4D">50</text>
<line x1="551.7" x2="551.7" y1="278.2" y2="280.9" stroke="#333" stroke-width="1.05"/>
<text x="551.7" y="290.6" font-size="9.6" text-anchor="middle" fill="#4D4D4D">75</text>
<text x="313.5" y="305.3" font-size="12.9" text-anchor="middle" fill="#000">Conditional co-mutation frequency (%)</text>
<text transform="translate(8.8,150.2) rotate(-90)" font-size="13.1" text-anchor="middle" fill="#000">Yule's Q</text>
<text x="627.2" y="109.5" font-size="12.7" fill="#000">Sig Level</text>
<rect x="627" y="116.6" width="17.2" height="85.7" fill="#F2F2F2"/>
<line x1="628.8" x2="642.2" y1="125" y2="125" stroke="#CFCFCF" stroke-width="1.7"/>
<circle cx="635.5" cy="125" r="1.9" fill="#CFCFCF"/>
<text x="649.6" y="128.45" font-size="10" fill="#000">NS</text>
<line x1="628.8" x2="642.2" y1="142.13" y2="142.13" stroke="#E8B238" stroke-width="2.0"/>
<circle cx="635.5" cy="142.13" r="1.9" fill="#E8B238"/>
<text x="649.6" y="145.58" font-size="10" fill="#000">&lt;0.05</text>
<line x1="628.8" x2="642.2" y1="159.26" y2="159.26" stroke="#E0882C" stroke-width="2.0"/>
<circle cx="635.5" cy="159.26" r="2.5" fill="#E0882C"/>
<text x="649.6" y="162.71" font-size="10" fill="#000">&lt;0.01</text>
<line x1="628.8" x2="642.2" y1="176.39" y2="176.39" stroke="#E05A2A" stroke-width="2.0"/>
<circle cx="635.5" cy="176.39" r="3.4" fill="#E05A2A"/>
<text x="649.6" y="179.84" font-size="10" fill="#000">&lt;0.001</text>
<line x1="628.8" x2="642.2" y1="193.52" y2="193.52" stroke="#C9302B" stroke-width="2.0"/>
<circle cx="635.5" cy="193.52" r="4.7" fill="#C9302B"/>
<text x="649.6" y="196.97" font-size="10" fill="#000">&lt;0.0001</text>
<text x="7.6" y="331.1" font-size="20" fill="#000">B</text>
<rect x="40" y="319" width="547" height="46.4" fill="#CCCCCC"/>
<rect x="40" y="365.4" width="547" height="15.46" fill="#F2F2F2"/>
<rect x="40" y="380.86" width="547" height="15.46" fill="#E5E5E5"/>
<rect x="40" y="396.32" width="547" height="15.46" fill="#F2F2F2"/>
<rect x="40" y="411.78" width="547" height="15.46" fill="#E5E5E5"/>
<rect x="40" y="427.24" width="547" height="15.46" fill="#F2F2F2"/>
<rect x="40" y="442.7" width="547" height="15.46" fill="#E5E5E5"/>
<rect x="40" y="458.16" width="547" height="15.46" fill="#F2F2F2"/>
<rect x="40" y="473.62" width="547" height="15.46" fill="#E5E5E5"/>
<rect x="40" y="489.08" width="547" height="15.46" fill="#F2F2F2"/>
<rect x="40" y="504.54" width="547" height="15.46" fill="#E5E5E5"/>
<rect x="40" y="520" width="547" height="15.46" fill="#F2F2F2"/>
<rect x="40" y="535.46" width="547" height="15.46" fill="#E5E5E5"/>
<line x1="40" x2="587" y1="365.4" y2="365.4" stroke="#fff" stroke-width="1.1"/>
<line x1="40" x2="587" y1="380.86" y2="380.86" stroke="#fff" stroke-width="1.1"/>
<line x1="40" x2="587" y1="396.32" y2="396.32" stroke="#fff" stroke-width="1.1"/>
<line x1="40" x2="587" y1="411.78" y2="411.78" stroke="#fff" stroke-width="1.1"/>
<line x1="40" x2="587" y1="427.24" y2="427.24" stroke="#fff" stroke-width="1.1"/>
<line x1="40" x2="587" y1="442.7" y2="442.7" stroke="#fff" stroke-width="1.1"/>
<line x1="40" x2="587" y1="458.16" y2="458.16" stroke="#fff" stroke-width="1.1"/>
<line x1="40" x2="587" y1="473.62" y2="473.62" stroke="#fff" stroke-width="1.1"/>
<line x1="40" x2="587" y1="489.08" y2="489.08" stroke="#fff" stroke-width="1.1"/>
<line x1="40" x2="587" y1="504.54" y2="504.54" stroke="#fff" stroke-width="1.1"/>
<line x1="40" x2="587" y1="520" y2="520" stroke="#fff" stroke-width="1.1"/>
<line x1="40" x2="587" y1="535.46" y2="535.46" stroke="#fff" stroke-width="1.1"/>
<line x1="40" x2="587" y1="550.92" y2="550.92" stroke="#fff" stroke-width="1.1"/>
<line x1="112.5" x2="112.5" y1="319" y2="551" stroke="#fff" stroke-width="1.1"/>
<line x1="185.4" x2="185.4" y1="319" y2="551" stroke="#fff" stroke-width="1.1"/>
<line x1="258.3" x2="258.3" y1="319" y2="551" stroke="#fff" stroke-width="1.1"/>
<line x1="368.3" x2="368.3" y1="319" y2="551" stroke="#fff" stroke-width="1.1"/>
<line x1="441.2" x2="441.2" y1="319" y2="551" stroke="#fff" stroke-width="1.1"/>
<line x1="514.1" x2="514.1" y1="319" y2="551" stroke="#fff" stroke-width="1.1"/>
<text x="76.25" y="345.3" font-size="9.8" font-weight="bold" text-anchor="middle" fill="#000">GROUP</text>
<text x="148.95" y="345.3" font-size="9.8" font-weight="bold" text-anchor="middle" fill="#000">Gene A</text>
<text x="221.85" y="345.3" font-size="9.8" font-weight="bold" text-anchor="middle" fill="#000">Gene B</text>
<text x="313.3" y="345.3" font-size="9.8" font-weight="bold" text-anchor="middle" fill="#000">OR [CI95%]</text>
<text x="404.75" y="345.3" font-size="9.8" font-weight="bold" text-anchor="middle" fill="#000">FDR</text>
<text x="477.65" y="331" font-size="9.8" font-weight="bold" text-anchor="middle" fill="#000">B mutant</text>
<text x="477.65" y="345.3" font-size="9.8" font-weight="bold" text-anchor="middle" fill="#000">in</text>
<text x="477.65" y="359.6" font-size="9.8" font-weight="bold" text-anchor="middle" fill="#000">A mutant</text>
<text x="550.55" y="331" font-size="9.8" font-weight="bold" text-anchor="middle" fill="#000">B mutant</text>
<text x="550.55" y="345.3" font-size="9.8" font-weight="bold" text-anchor="middle" fill="#000">in</text>
<text x="550.55" y="359.6" font-size="9.8" font-weight="bold" text-anchor="middle" fill="#000">A WT</text>
<text x="76.25" y="376.63" font-size="9.9" text-anchor="middle" fill="#1A1A1A">MSS</text>
<text x="148.95" y="376.63" font-size="9.9" text-anchor="middle" fill="#1A1A1A">KRAS</text>
<text x="221.85" y="376.63" font-size="9.9" text-anchor="middle" fill="#1A1A1A">BRAF</text>
<text x="313.3" y="376.63" font-size="9.9" text-anchor="middle" fill="#1A1A1A">0.07 [0.03-0.17]</text>
<text x="404.75" y="376.63" font-size="9.9" text-anchor="middle" fill="#1A1A1A">7.5e-16</text>
<text x="477.65" y="376.63" font-size="9.9" text-anchor="middle" fill="#1A1A1A">1.0%</text>
<text x="550.55" y="376.63" font-size="9.9" text-anchor="middle" fill="#1A1A1A">12.6%</text>
<text x="76.25" y="392.09" font-size="9.9" text-anchor="middle" fill="#1A1A1A">MSS</text>
<text x="148.95" y="392.09" font-size="9.9" text-anchor="middle" fill="#1A1A1A">KRAS</text>
<text x="221.85" y="392.09" font-size="9.9" text-anchor="middle" fill="#1A1A1A">NRAS</text>
<text x="313.3" y="392.09" font-size="9.9" text-anchor="middle" fill="#1A1A1A">0.09 [0.02-0.23]</text>
<text x="404.75" y="392.09" font-size="9.9" text-anchor="middle" fill="#1A1A1A">1.3e-08</text>
<text x="477.65" y="392.09" font-size="9.9" text-anchor="middle" fill="#1A1A1A">0.7%</text>
<text x="550.55" y="392.09" font-size="9.9" text-anchor="middle" fill="#1A1A1A">7.6%</text>
<text x="76.25" y="407.55" font-size="9.9" text-anchor="middle" fill="#1A1A1A">MSS</text>
<text x="148.95" y="407.55" font-size="9.9" text-anchor="middle" fill="#1A1A1A">KRAS</text>
<text x="221.85" y="407.55" font-size="9.9" text-anchor="middle" fill="#1A1A1A">PIK3CA</text>
<text x="313.3" y="407.55" font-size="9.9" text-anchor="middle" fill="#1A1A1A">2.21 [1.69-2.90]</text>
<text x="404.75" y="407.55" font-size="9.9" text-anchor="middle" fill="#1A1A1A">3.1e-07</text>
<text x="477.65" y="407.55" font-size="9.9" text-anchor="middle" fill="#1A1A1A">28.1%</text>
<text x="550.55" y="407.55" font-size="9.9" text-anchor="middle" fill="#1A1A1A">15.0%</text>
<text x="76.25" y="423.01" font-size="9.9" text-anchor="middle" fill="#1A1A1A">MSS</text>
<text x="148.95" y="423.01" font-size="9.9" text-anchor="middle" fill="#1A1A1A">KRAS</text>
<text x="221.85" y="423.01" font-size="9.9" text-anchor="middle" fill="#1A1A1A">TP53</text>
<text x="313.3" y="423.01" font-size="9.9" text-anchor="middle" fill="#1A1A1A">0.53 [0.42-0.67]</text>
<text x="404.75" y="423.01" font-size="9.9" text-anchor="middle" fill="#1A1A1A">2.2e-06</text>
<text x="477.65" y="423.01" font-size="9.9" text-anchor="middle" fill="#1A1A1A">56.7%</text>
<text x="550.55" y="423.01" font-size="9.9" text-anchor="middle" fill="#1A1A1A">71.1%</text>
<text x="76.25" y="438.47" font-size="9.9" text-anchor="middle" fill="#1A1A1A">MSS</text>
<text x="148.95" y="438.47" font-size="9.9" text-anchor="middle" fill="#1A1A1A">KRAS</text>
<text x="221.85" y="438.47" font-size="9.9" text-anchor="middle" fill="#1A1A1A">APC</text>
<text x="313.3" y="438.47" font-size="9.9" text-anchor="middle" fill="#1A1A1A">1.83 [1.42-2.38]</text>
<text x="404.75" y="438.47" font-size="9.9" text-anchor="middle" fill="#1A1A1A">8.4e-05</text>
<text x="477.65" y="438.47" font-size="9.9" text-anchor="middle" fill="#1A1A1A">79.6%</text>
<text x="550.55" y="438.47" font-size="9.9" text-anchor="middle" fill="#1A1A1A">68.0%</text>
<text x="76.25" y="453.93" font-size="9.9" text-anchor="middle" fill="#1A1A1A">MSS</text>
<text x="148.95" y="453.93" font-size="9.9" text-anchor="middle" fill="#1A1A1A">KRAS</text>
<text x="221.85" y="453.93" font-size="9.9" text-anchor="middle" fill="#1A1A1A">SMAD2</text>
<text x="313.3" y="453.93" font-size="9.9" text-anchor="middle" fill="#1A1A1A">2.70 [1.54-4.85]</text>
<text x="404.75" y="453.93" font-size="9.9" text-anchor="middle" fill="#1A1A1A">1.3e-02</text>
<text x="477.65" y="453.93" font-size="9.9" text-anchor="middle" fill="#1A1A1A">6.6%</text>
<text x="550.55" y="453.93" font-size="9.9" text-anchor="middle" fill="#1A1A1A">2.6%</text>
<text x="76.25" y="469.39" font-size="9.9" text-anchor="middle" fill="#1A1A1A">MSS</text>
<text x="148.95" y="469.39" font-size="9.9" text-anchor="middle" fill="#1A1A1A">KRAS</text>
<text x="221.85" y="469.39" font-size="9.9" text-anchor="middle" fill="#1A1A1A">FBXW7</text>
<text x="313.3" y="469.39" font-size="9.9" text-anchor="middle" fill="#1A1A1A">1.81 [1.30-2.54]</text>
<text x="404.75" y="469.39" font-size="9.9" text-anchor="middle" fill="#1A1A1A">1.5e-02</text>
<text x="477.65" y="469.39" font-size="9.9" text-anchor="middle" fill="#1A1A1A">15.7%</text>
<text x="550.55" y="469.39" font-size="9.9" text-anchor="middle" fill="#1A1A1A">9.3%</text>
<text x="76.25" y="484.85" font-size="9.9" text-anchor="middle" fill="#1A1A1A">MSS</text>
<text x="148.95" y="484.85" font-size="9.9" text-anchor="middle" fill="#1A1A1A">KRAS</text>
<text x="221.85" y="484.85" font-size="9.9" text-anchor="middle" fill="#1A1A1A">AMER1</text>
<text x="313.3" y="484.85" font-size="9.9" text-anchor="middle" fill="#1A1A1A">2.16 [1.40-3.37]</text>
<text x="404.75" y="484.85" font-size="9.9" text-anchor="middle" fill="#1A1A1A">1.5e-02</text>
<text x="477.65" y="484.85" font-size="9.9" text-anchor="middle" fill="#1A1A1A">9.8%</text>
<text x="550.55" y="484.85" font-size="9.9" text-anchor="middle" fill="#1A1A1A">4.8%</text>
<text x="76.25" y="500.31" font-size="9.9" text-anchor="middle" fill="#1A1A1A">MSS</text>
<text x="148.95" y="500.31" font-size="9.9" text-anchor="middle" fill="#1A1A1A">NRAS</text>
<text x="221.85" y="500.31" font-size="9.9" text-anchor="middle" fill="#1A1A1A">KRAS</text>
<text x="313.3" y="500.31" font-size="9.9" text-anchor="middle" fill="#1A1A1A">0.09 [0.02-0.23]</text>
<text x="404.75" y="500.31" font-size="9.9" text-anchor="middle" fill="#1A1A1A">2.6e-08</text>
<text x="477.65" y="500.31" font-size="9.9" text-anchor="middle" fill="#1A1A1A">5.8%</text>
<text x="550.55" y="500.31" font-size="9.9" text-anchor="middle" fill="#1A1A1A">41.7%</text>
<text x="76.25" y="515.77" font-size="9.9" text-anchor="middle" fill="#1A1A1A">MSS</text>
<text x="148.95" y="515.77" font-size="9.9" text-anchor="middle" fill="#1A1A1A">NRAS</text>
<text x="221.85" y="515.77" font-size="9.9" text-anchor="middle" fill="#1A1A1A">APC</text>
<text x="313.3" y="515.77" font-size="9.9" text-anchor="middle" fill="#1A1A1A">4.15 [1.78-11.82]</text>
<text x="404.75" y="515.77" font-size="9.9" text-anchor="middle" fill="#1A1A1A">2.5e-02</text>
<text x="477.65" y="515.77" font-size="9.9" text-anchor="middle" fill="#1A1A1A">91.3%</text>
<text x="550.55" y="515.77" font-size="9.9" text-anchor="middle" fill="#1A1A1A">71.7%</text>
<text x="76.25" y="531.23" font-size="9.9" text-anchor="middle" fill="#1A1A1A">MSI/HYPER</text>
<text x="148.95" y="531.23" font-size="9.9" text-anchor="middle" fill="#1A1A1A">KRAS</text>
<text x="221.85" y="531.23" font-size="9.9" text-anchor="middle" fill="#1A1A1A">BRAF</text>
<text x="313.3" y="531.23" font-size="9.9" text-anchor="middle" fill="#1A1A1A">0.12 [0.06-0.23]</text>
<text x="404.75" y="531.23" font-size="9.9" text-anchor="middle" fill="#1A1A1A">9.3e-12</text>
<text x="477.65" y="531.23" font-size="9.9" text-anchor="middle" fill="#1A1A1A">16.5%</text>
<text x="550.55" y="531.23" font-size="9.9" text-anchor="middle" fill="#1A1A1A">61.6%</text>
<text x="76.25" y="546.69" font-size="9.9" text-anchor="middle" fill="#1A1A1A">MSI/HYPER</text>
<text x="148.95" y="546.69" font-size="9.9" text-anchor="middle" fill="#1A1A1A">KRAS</text>
<text x="221.85" y="546.69" font-size="9.9" text-anchor="middle" fill="#1A1A1A">APC</text>
<text x="313.3" y="546.69" font-size="9.9" text-anchor="middle" fill="#1A1A1A">4.12 [2.39-7.30]</text>
<text x="404.75" y="546.69" font-size="9.9" text-anchor="middle" fill="#1A1A1A">9.1e-06</text>
<text x="477.65" y="546.69" font-size="9.9" text-anchor="middle" fill="#1A1A1A">73.2%</text>
<text x="550.55" y="546.69" font-size="9.9" text-anchor="middle" fill="#1A1A1A">39.7%</text>
</svg>
</body></html>
